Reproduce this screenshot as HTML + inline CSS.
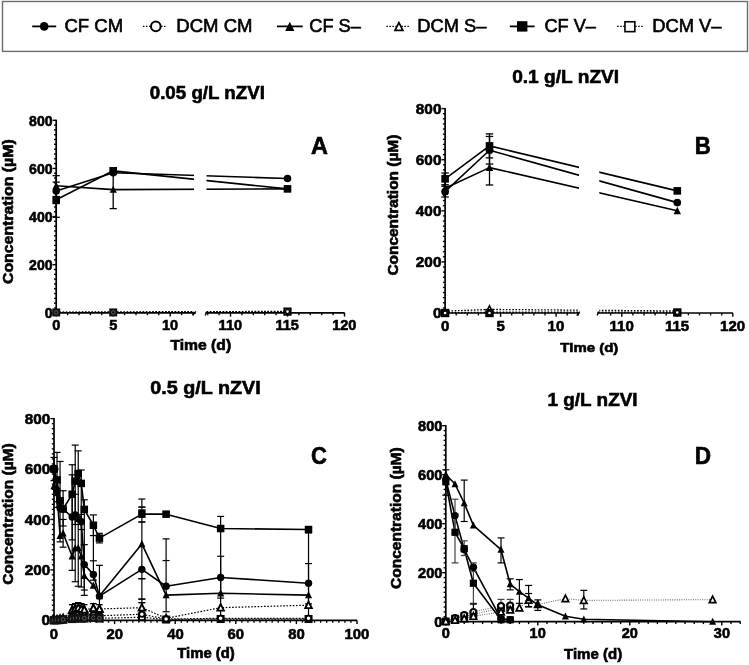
<!DOCTYPE html>
<html><head><meta charset="utf-8"><style>
html,body{margin:0;padding:0;background:#fff;}
svg{display:block;filter:blur(0.35px);}
text{font-family:"Liberation Sans",sans-serif;fill:#000;}
</style></head><body>
<svg width="749" height="665" viewBox="0 0 749 665" font-family="Liberation Sans, sans-serif">
<rect width="749" height="665" fill="#fff"/>
<rect x="2.5" y="1.5" width="745" height="49.9" fill="none" stroke="#6b6b6b" stroke-width="1.4"/>
<line x1="32.2" y1="26.4" x2="56.2" y2="26.4" stroke="#000" stroke-width="1.8" stroke-linecap="butt"/>
<circle cx="44.2" cy="26.4" r="4.3" fill="#000" stroke="#000" stroke-width="0"/>
<line x1="143" y1="26.4" x2="167" y2="26.4" stroke="#000" stroke-width="1.4" stroke-linecap="butt" stroke-dasharray="1.5,1.5"/>
<circle cx="155.8" cy="26.4" r="4.8" fill="#fff" stroke="#000" stroke-width="2.0"/>
<line x1="277" y1="26.4" x2="302.7" y2="26.4" stroke="#000" stroke-width="1.8" stroke-linecap="butt"/>
<polygon points="289.8,21.84 294.4,31.04 285.2,31.04" fill="#000" stroke="#000" stroke-width="0" stroke-linejoin="miter"/>
<line x1="386.4" y1="26.4" x2="408.8" y2="26.4" stroke="#000" stroke-width="1.4" stroke-linecap="butt" stroke-dasharray="1.5,1.5"/>
<polygon points="398.9,22.55 402.85,30.45 394.95,30.45" fill="#fff" stroke="#000" stroke-width="1.7" stroke-linejoin="miter"/>
<line x1="509.8" y1="26.4" x2="534.6" y2="26.4" stroke="#000" stroke-width="1.8" stroke-linecap="butt"/>
<rect x="517" y="21.2" width="10.4" height="10.4" fill="#000" stroke="#000" stroke-width="0"/>
<line x1="617.2" y1="26.4" x2="642.9" y2="26.4" stroke="#000" stroke-width="1.4" stroke-linecap="butt" stroke-dasharray="1.5,1.5"/>
<rect x="624.95" y="21.75" width="9.9" height="9.9" fill="#fff" stroke="#000" stroke-width="1.6"/>
<text transform="translate(64.47,32.3) scale(1.0225,1)" font-size="18.14" font-weight="normal" stroke="#000" stroke-width="0.6">CF CM</text>
<text transform="translate(176.32,32.3) scale(1.0213,1)" font-size="18.14" font-weight="normal" stroke="#000" stroke-width="0.6">DCM CM</text>
<text transform="translate(309.29,32.3) scale(1.0034,1)" font-size="18.14" font-weight="normal" stroke="#000" stroke-width="0.6">CF S–</text>
<text transform="translate(417.34,32.3) scale(1.0069,1)" font-size="18.14" font-weight="normal" stroke="#000" stroke-width="0.6">DCM S–</text>
<text transform="translate(544.39,32.3) scale(1.0034,1)" font-size="18.14" font-weight="normal" stroke="#000" stroke-width="0.6">CF V–</text>
<text transform="translate(652.13,32.3) scale(1.0129,1)" font-size="18.14" font-weight="normal" stroke="#000" stroke-width="0.6">DCM V–</text>
<text transform="translate(149.75,98.6) scale(1.0443,1)" font-size="17.93" font-weight="bold" stroke="#000" stroke-width="0.6">0.05 g/L nZVI</text>
<text transform="translate(512.13,83) scale(1.0057,1)" font-size="19.03" font-weight="bold" stroke="#000" stroke-width="0.6">0.1 g/L nZVI</text>
<text transform="translate(150.31,394.4) scale(1.0683,1)" font-size="18.48" font-weight="bold" stroke="#000" stroke-width="0.6">0.5 g/L nZVI</text>
<text transform="translate(547.47,405.6) scale(1.0248,1)" font-size="18.48" font-weight="bold" stroke="#000" stroke-width="0.6">1 g/L nZVI</text>
<text transform="translate(310.91,154.4) scale(0.9859,1)" font-size="23.77" font-weight="bold" stroke="#000" stroke-width="0.6">A</text>
<text transform="translate(694.85,154.4) scale(0.9380,1)" font-size="23.77" font-weight="bold" stroke="#000" stroke-width="0.6">B</text>
<text transform="translate(310.92,463.9) scale(0.9160,1)" font-size="24.00" font-weight="bold" stroke="#000" stroke-width="0.6">C</text>
<text transform="translate(694.83,463.6) scale(0.9568,1)" font-size="23.62" font-weight="bold" stroke="#000" stroke-width="0.6">D</text>
<text transform="translate(170.44,349.7) scale(1.1160,1)" font-size="14.07" font-weight="bold" stroke="#000" stroke-width="0.6">Time (d)</text>
<text transform="translate(560.35,352.4) scale(1.0961,1)" font-size="13.66" font-weight="bold" stroke="#000" stroke-width="0.6">Time (d)</text>
<text transform="translate(177.25,658.3) scale(1.0775,1)" font-size="13.79" font-weight="bold" stroke="#000" stroke-width="0.6">Time (d)</text>
<text transform="translate(564.05,659.2) scale(1.0572,1)" font-size="14.21" font-weight="bold" stroke="#000" stroke-width="0.6">Time (d)</text>
<text transform="translate(13.4,284.03) rotate(-90) scale(1.1167,1)" font-size="14.21" font-weight="bold" stroke="#000" stroke-width="0.6">Concentration (µM)</text>
<text transform="translate(397.5,275.62) rotate(-90) scale(1.0978,1)" font-size="14.07" font-weight="bold" stroke="#000" stroke-width="0.6">Concentration (µM)</text>
<text transform="translate(12.7,584.82) rotate(-90) scale(1.0910,1)" font-size="14.21" font-weight="bold" stroke="#000" stroke-width="0.6">Concentration (µM)</text>
<text transform="translate(400.7,589.02) rotate(-90) scale(1.0934,1)" font-size="14.21" font-weight="bold" stroke="#000" stroke-width="0.6">Concentration (µM)</text>
<polyline points="56.2,312.32 113.2,312.32 287.5,311.6" fill="none" stroke="#000" stroke-width="1.2" stroke-linejoin="round" stroke-dasharray="1.6,1.6"/>
<polyline points="56.2,312.08 113.2,311.84 287.5,311.36" fill="none" stroke="#000" stroke-width="1.2" stroke-linejoin="round" stroke-dasharray="1.6,1.6"/>
<polyline points="56.2,191.04 113.2,172.76 287.5,178.53" fill="none" stroke="#000" stroke-width="1.6" stroke-linejoin="round"/>
<polyline points="56.2,185.75 113.2,189.6 287.5,188.88" fill="none" stroke="#000" stroke-width="1.6" stroke-linejoin="round"/>
<polyline points="56.2,199.71 113.2,170.83 287.5,188.88" fill="none" stroke="#000" stroke-width="1.6" stroke-linejoin="round"/>
<rect x="194" y="110" width="12.5" height="206" fill="#fff"/>
<line x1="56.2" y1="119.7" x2="56.2" y2="313.6" stroke="#000" stroke-width="1.7" stroke-linecap="butt"/>
<line x1="52.6" y1="312.8" x2="56.2" y2="312.8" stroke="#000" stroke-width="1.4" stroke-linecap="butt"/>
<line x1="54" y1="307.99" x2="56.2" y2="307.99" stroke="#000" stroke-width="1.35" stroke-linecap="butt"/>
<line x1="54" y1="303.18" x2="56.2" y2="303.18" stroke="#000" stroke-width="1.35" stroke-linecap="butt"/>
<line x1="54" y1="298.36" x2="56.2" y2="298.36" stroke="#000" stroke-width="1.35" stroke-linecap="butt"/>
<line x1="54" y1="293.55" x2="56.2" y2="293.55" stroke="#000" stroke-width="1.35" stroke-linecap="butt"/>
<line x1="54" y1="288.74" x2="56.2" y2="288.74" stroke="#000" stroke-width="1.35" stroke-linecap="butt"/>
<line x1="54" y1="283.93" x2="56.2" y2="283.93" stroke="#000" stroke-width="1.35" stroke-linecap="butt"/>
<line x1="54" y1="279.11" x2="56.2" y2="279.11" stroke="#000" stroke-width="1.35" stroke-linecap="butt"/>
<line x1="54" y1="274.3" x2="56.2" y2="274.3" stroke="#000" stroke-width="1.35" stroke-linecap="butt"/>
<line x1="54" y1="269.49" x2="56.2" y2="269.49" stroke="#000" stroke-width="1.35" stroke-linecap="butt"/>
<line x1="52.6" y1="264.68" x2="56.2" y2="264.68" stroke="#000" stroke-width="1.4" stroke-linecap="butt"/>
<line x1="54" y1="259.86" x2="56.2" y2="259.86" stroke="#000" stroke-width="1.35" stroke-linecap="butt"/>
<line x1="54" y1="255.05" x2="56.2" y2="255.05" stroke="#000" stroke-width="1.35" stroke-linecap="butt"/>
<line x1="54" y1="250.24" x2="56.2" y2="250.24" stroke="#000" stroke-width="1.35" stroke-linecap="butt"/>
<line x1="54" y1="245.43" x2="56.2" y2="245.43" stroke="#000" stroke-width="1.35" stroke-linecap="butt"/>
<line x1="54" y1="240.61" x2="56.2" y2="240.61" stroke="#000" stroke-width="1.35" stroke-linecap="butt"/>
<line x1="54" y1="235.8" x2="56.2" y2="235.8" stroke="#000" stroke-width="1.35" stroke-linecap="butt"/>
<line x1="54" y1="230.99" x2="56.2" y2="230.99" stroke="#000" stroke-width="1.35" stroke-linecap="butt"/>
<line x1="54" y1="226.18" x2="56.2" y2="226.18" stroke="#000" stroke-width="1.35" stroke-linecap="butt"/>
<line x1="54" y1="221.36" x2="56.2" y2="221.36" stroke="#000" stroke-width="1.35" stroke-linecap="butt"/>
<line x1="52.6" y1="216.55" x2="56.2" y2="216.55" stroke="#000" stroke-width="1.4" stroke-linecap="butt"/>
<line x1="54" y1="211.74" x2="56.2" y2="211.74" stroke="#000" stroke-width="1.35" stroke-linecap="butt"/>
<line x1="54" y1="206.93" x2="56.2" y2="206.93" stroke="#000" stroke-width="1.35" stroke-linecap="butt"/>
<line x1="54" y1="202.11" x2="56.2" y2="202.11" stroke="#000" stroke-width="1.35" stroke-linecap="butt"/>
<line x1="54" y1="197.3" x2="56.2" y2="197.3" stroke="#000" stroke-width="1.35" stroke-linecap="butt"/>
<line x1="54" y1="192.49" x2="56.2" y2="192.49" stroke="#000" stroke-width="1.35" stroke-linecap="butt"/>
<line x1="54" y1="187.68" x2="56.2" y2="187.68" stroke="#000" stroke-width="1.35" stroke-linecap="butt"/>
<line x1="54" y1="182.86" x2="56.2" y2="182.86" stroke="#000" stroke-width="1.35" stroke-linecap="butt"/>
<line x1="54" y1="178.05" x2="56.2" y2="178.05" stroke="#000" stroke-width="1.35" stroke-linecap="butt"/>
<line x1="54" y1="173.24" x2="56.2" y2="173.24" stroke="#000" stroke-width="1.35" stroke-linecap="butt"/>
<line x1="52.6" y1="168.43" x2="56.2" y2="168.43" stroke="#000" stroke-width="1.4" stroke-linecap="butt"/>
<line x1="54" y1="163.61" x2="56.2" y2="163.61" stroke="#000" stroke-width="1.35" stroke-linecap="butt"/>
<line x1="54" y1="158.8" x2="56.2" y2="158.8" stroke="#000" stroke-width="1.35" stroke-linecap="butt"/>
<line x1="54" y1="153.99" x2="56.2" y2="153.99" stroke="#000" stroke-width="1.35" stroke-linecap="butt"/>
<line x1="54" y1="149.18" x2="56.2" y2="149.18" stroke="#000" stroke-width="1.35" stroke-linecap="butt"/>
<line x1="54" y1="144.36" x2="56.2" y2="144.36" stroke="#000" stroke-width="1.35" stroke-linecap="butt"/>
<line x1="54" y1="139.55" x2="56.2" y2="139.55" stroke="#000" stroke-width="1.35" stroke-linecap="butt"/>
<line x1="54" y1="134.74" x2="56.2" y2="134.74" stroke="#000" stroke-width="1.35" stroke-linecap="butt"/>
<line x1="54" y1="129.93" x2="56.2" y2="129.93" stroke="#000" stroke-width="1.35" stroke-linecap="butt"/>
<line x1="54" y1="125.11" x2="56.2" y2="125.11" stroke="#000" stroke-width="1.35" stroke-linecap="butt"/>
<line x1="52.6" y1="120.3" x2="56.2" y2="120.3" stroke="#000" stroke-width="1.4" stroke-linecap="butt"/>
<text transform="translate(44.67,318.16) scale(0.9971,1)" font-size="14.08" font-weight="bold" stroke="#000" stroke-width="0.6">0</text>
<text transform="translate(29.08,270.03) scale(0.9971,1)" font-size="14.08" font-weight="bold" stroke="#000" stroke-width="0.6">200</text>
<text transform="translate(29.08,221.91) scale(0.9971,1)" font-size="14.08" font-weight="bold" stroke="#000" stroke-width="0.6">400</text>
<text transform="translate(29.08,173.78) scale(0.9971,1)" font-size="14.08" font-weight="bold" stroke="#000" stroke-width="0.6">600</text>
<text transform="translate(29.08,125.66) scale(0.9971,1)" font-size="14.08" font-weight="bold" stroke="#000" stroke-width="0.6">800</text>
<line x1="56.2" y1="312.8" x2="195.8" y2="312.8" stroke="#000" stroke-width="1.7" stroke-linecap="butt"/>
<line x1="56.2" y1="312.8" x2="56.2" y2="316.6" stroke="#000" stroke-width="1.4" stroke-linecap="butt"/>
<line x1="67.6" y1="312.8" x2="67.6" y2="315.2" stroke="#000" stroke-width="1.35" stroke-linecap="butt"/>
<line x1="79" y1="312.8" x2="79" y2="315.2" stroke="#000" stroke-width="1.35" stroke-linecap="butt"/>
<line x1="90.4" y1="312.8" x2="90.4" y2="315.2" stroke="#000" stroke-width="1.35" stroke-linecap="butt"/>
<line x1="101.8" y1="312.8" x2="101.8" y2="315.2" stroke="#000" stroke-width="1.35" stroke-linecap="butt"/>
<line x1="113.2" y1="312.8" x2="113.2" y2="316.6" stroke="#000" stroke-width="1.4" stroke-linecap="butt"/>
<line x1="124.6" y1="312.8" x2="124.6" y2="315.2" stroke="#000" stroke-width="1.35" stroke-linecap="butt"/>
<line x1="136" y1="312.8" x2="136" y2="315.2" stroke="#000" stroke-width="1.35" stroke-linecap="butt"/>
<line x1="147.4" y1="312.8" x2="147.4" y2="315.2" stroke="#000" stroke-width="1.35" stroke-linecap="butt"/>
<line x1="158.8" y1="312.8" x2="158.8" y2="315.2" stroke="#000" stroke-width="1.35" stroke-linecap="butt"/>
<line x1="170.2" y1="312.8" x2="170.2" y2="316.6" stroke="#000" stroke-width="1.4" stroke-linecap="butt"/>
<line x1="181.6" y1="312.8" x2="181.6" y2="315.2" stroke="#000" stroke-width="1.35" stroke-linecap="butt"/>
<line x1="193" y1="312.8" x2="193" y2="315.2" stroke="#000" stroke-width="1.35" stroke-linecap="butt"/>
<text transform="translate(52.17,329.66) scale(1.0112,1)" font-size="14.37" font-weight="bold" stroke="#000" stroke-width="0.6">0</text>
<text transform="translate(109.13,329.58) scale(1.0112,1)" font-size="14.37" font-weight="bold" stroke="#000" stroke-width="0.6">5</text>
<text transform="translate(161.96,329.66) scale(1.0112,1)" font-size="14.37" font-weight="bold" stroke="#000" stroke-width="0.6">10</text>
<line x1="205.4" y1="312.8" x2="344.6" y2="312.8" stroke="#000" stroke-width="1.7" stroke-linecap="butt"/>
<line x1="207.7" y1="312.8" x2="207.7" y2="315.2" stroke="#000" stroke-width="1.35" stroke-linecap="butt"/>
<line x1="219.1" y1="312.8" x2="219.1" y2="315.2" stroke="#000" stroke-width="1.35" stroke-linecap="butt"/>
<line x1="230.5" y1="312.8" x2="230.5" y2="316.6" stroke="#000" stroke-width="1.4" stroke-linecap="butt"/>
<line x1="241.9" y1="312.8" x2="241.9" y2="315.2" stroke="#000" stroke-width="1.35" stroke-linecap="butt"/>
<line x1="253.3" y1="312.8" x2="253.3" y2="315.2" stroke="#000" stroke-width="1.35" stroke-linecap="butt"/>
<line x1="264.7" y1="312.8" x2="264.7" y2="315.2" stroke="#000" stroke-width="1.35" stroke-linecap="butt"/>
<line x1="276.1" y1="312.8" x2="276.1" y2="315.2" stroke="#000" stroke-width="1.35" stroke-linecap="butt"/>
<line x1="287.5" y1="312.8" x2="287.5" y2="316.6" stroke="#000" stroke-width="1.4" stroke-linecap="butt"/>
<line x1="298.9" y1="312.8" x2="298.9" y2="315.2" stroke="#000" stroke-width="1.35" stroke-linecap="butt"/>
<line x1="310.3" y1="312.8" x2="310.3" y2="315.2" stroke="#000" stroke-width="1.35" stroke-linecap="butt"/>
<line x1="321.7" y1="312.8" x2="321.7" y2="315.2" stroke="#000" stroke-width="1.35" stroke-linecap="butt"/>
<line x1="333.1" y1="312.8" x2="333.1" y2="315.2" stroke="#000" stroke-width="1.35" stroke-linecap="butt"/>
<line x1="344.5" y1="312.8" x2="344.5" y2="316.6" stroke="#000" stroke-width="1.4" stroke-linecap="butt"/>
<text transform="translate(218.62,329.66) scale(1.0112,1)" font-size="14.37" font-weight="bold" stroke="#000" stroke-width="0.6">110</text>
<text transform="translate(275.51,329.58) scale(1.0112,1)" font-size="14.37" font-weight="bold" stroke="#000" stroke-width="0.6">115</text>
<text transform="translate(332.22,329.66) scale(1.0112,1)" font-size="14.37" font-weight="bold" stroke="#000" stroke-width="0.6">120</text>
<line x1="195.8" y1="311.4" x2="192.8" y2="315.4" stroke="#000" stroke-width="1.3" stroke-linecap="butt"/>
<line x1="207" y1="311.4" x2="205.2" y2="315.4" stroke="#000" stroke-width="1.3" stroke-linecap="butt"/>
<line x1="56.2" y1="175.64" x2="56.2" y2="203.56" stroke="#000" stroke-width="1.3" stroke-linecap="butt"/>
<line x1="52.6" y1="175.64" x2="59.8" y2="175.64" stroke="#000" stroke-width="1.3" stroke-linecap="butt"/>
<line x1="52.6" y1="203.56" x2="59.8" y2="203.56" stroke="#000" stroke-width="1.3" stroke-linecap="butt"/>
<line x1="56.2" y1="182.14" x2="56.2" y2="217.27" stroke="#000" stroke-width="1.3" stroke-linecap="butt"/>
<line x1="52.6" y1="182.14" x2="59.8" y2="182.14" stroke="#000" stroke-width="1.3" stroke-linecap="butt"/>
<line x1="52.6" y1="217.27" x2="59.8" y2="217.27" stroke="#000" stroke-width="1.3" stroke-linecap="butt"/>
<line x1="113.2" y1="173.48" x2="113.2" y2="208.61" stroke="#000" stroke-width="1.3" stroke-linecap="butt"/>
<line x1="109.6" y1="173.48" x2="116.8" y2="173.48" stroke="#000" stroke-width="1.3" stroke-linecap="butt"/>
<line x1="109.6" y1="208.61" x2="116.8" y2="208.61" stroke="#000" stroke-width="1.3" stroke-linecap="butt"/>
<rect x="52.2" y="308.44" width="8" height="8" fill="#111"/>
<circle cx="56.2" cy="312.44" r="1.76" fill="none" stroke="#777" stroke-width="0.7"/>
<rect x="109.2" y="308.44" width="8" height="8" fill="#111"/>
<circle cx="113.2" cy="312.44" r="1.76" fill="none" stroke="#777" stroke-width="0.7"/>
<rect x="284.4" y="308.5" width="6.2" height="6.2" fill="#fff" stroke="#000" stroke-width="2.0"/>
<circle cx="287.5" cy="311.6" r="2" fill="#fff" stroke="#000" stroke-width="1.4"/>
<polygon points="56.2,181.79 59.8,188.99 52.6,188.99" fill="#000" stroke="#000" stroke-width="0" stroke-linejoin="miter"/>
<polygon points="113.2,185.64 116.8,192.84 109.6,192.84" fill="#000" stroke="#000" stroke-width="0" stroke-linejoin="miter"/>
<polygon points="287.5,184.92 291.1,192.12 283.9,192.12" fill="#000" stroke="#000" stroke-width="0" stroke-linejoin="miter"/>
<circle cx="56.2" cy="191.04" r="3.75" fill="#000" stroke="#000" stroke-width="0"/>
<circle cx="113.2" cy="172.76" r="3.75" fill="#000" stroke="#000" stroke-width="0"/>
<circle cx="287.5" cy="178.53" r="3.75" fill="#000" stroke="#000" stroke-width="0"/>
<rect x="52.4" y="195.91" width="7.6" height="7.6" fill="#000" stroke="#000" stroke-width="0"/>
<rect x="109.4" y="167.03" width="7.6" height="7.6" fill="#000" stroke="#000" stroke-width="0"/>
<rect x="283.7" y="185.08" width="7.6" height="7.6" fill="#000" stroke="#000" stroke-width="0"/>
<polyline points="445.1,311.21 489.5,309.42 677.3,310.96" fill="none" stroke="#000" stroke-width="1.3" stroke-linejoin="round" stroke-dasharray="1.6,1.6"/>
<polyline points="445.1,312.74 489.5,312.23 677.3,312.23" fill="none" stroke="#000" stroke-width="1.3" stroke-linejoin="round" stroke-dasharray="1.6,1.6"/>
<polyline points="445.1,191.64 489.5,150.25 677.3,202.62" fill="none" stroke="#000" stroke-width="1.6" stroke-linejoin="round"/>
<polyline points="445.1,188.32 489.5,167.62 677.3,210.8" fill="none" stroke="#000" stroke-width="1.6" stroke-linejoin="round"/>
<polyline points="445.1,178.86 489.5,145.9 677.3,190.87" fill="none" stroke="#000" stroke-width="1.6" stroke-linejoin="round"/>
<rect x="579" y="100" width="20.3" height="216" fill="#fff"/>
<line x1="445.1" y1="108" x2="445.1" y2="313.8" stroke="#000" stroke-width="1.7" stroke-linecap="butt"/>
<line x1="441.5" y1="313" x2="445.1" y2="313" stroke="#000" stroke-width="1.4" stroke-linecap="butt"/>
<line x1="442.9" y1="307.89" x2="445.1" y2="307.89" stroke="#000" stroke-width="1.35" stroke-linecap="butt"/>
<line x1="442.9" y1="302.78" x2="445.1" y2="302.78" stroke="#000" stroke-width="1.35" stroke-linecap="butt"/>
<line x1="442.9" y1="297.67" x2="445.1" y2="297.67" stroke="#000" stroke-width="1.35" stroke-linecap="butt"/>
<line x1="442.9" y1="292.56" x2="445.1" y2="292.56" stroke="#000" stroke-width="1.35" stroke-linecap="butt"/>
<line x1="442.9" y1="287.45" x2="445.1" y2="287.45" stroke="#000" stroke-width="1.35" stroke-linecap="butt"/>
<line x1="442.9" y1="282.34" x2="445.1" y2="282.34" stroke="#000" stroke-width="1.35" stroke-linecap="butt"/>
<line x1="442.9" y1="277.23" x2="445.1" y2="277.23" stroke="#000" stroke-width="1.35" stroke-linecap="butt"/>
<line x1="442.9" y1="272.12" x2="445.1" y2="272.12" stroke="#000" stroke-width="1.35" stroke-linecap="butt"/>
<line x1="442.9" y1="267.01" x2="445.1" y2="267.01" stroke="#000" stroke-width="1.35" stroke-linecap="butt"/>
<line x1="441.5" y1="261.9" x2="445.1" y2="261.9" stroke="#000" stroke-width="1.4" stroke-linecap="butt"/>
<line x1="442.9" y1="256.79" x2="445.1" y2="256.79" stroke="#000" stroke-width="1.35" stroke-linecap="butt"/>
<line x1="442.9" y1="251.68" x2="445.1" y2="251.68" stroke="#000" stroke-width="1.35" stroke-linecap="butt"/>
<line x1="442.9" y1="246.57" x2="445.1" y2="246.57" stroke="#000" stroke-width="1.35" stroke-linecap="butt"/>
<line x1="442.9" y1="241.46" x2="445.1" y2="241.46" stroke="#000" stroke-width="1.35" stroke-linecap="butt"/>
<line x1="442.9" y1="236.35" x2="445.1" y2="236.35" stroke="#000" stroke-width="1.35" stroke-linecap="butt"/>
<line x1="442.9" y1="231.24" x2="445.1" y2="231.24" stroke="#000" stroke-width="1.35" stroke-linecap="butt"/>
<line x1="442.9" y1="226.13" x2="445.1" y2="226.13" stroke="#000" stroke-width="1.35" stroke-linecap="butt"/>
<line x1="442.9" y1="221.02" x2="445.1" y2="221.02" stroke="#000" stroke-width="1.35" stroke-linecap="butt"/>
<line x1="442.9" y1="215.91" x2="445.1" y2="215.91" stroke="#000" stroke-width="1.35" stroke-linecap="butt"/>
<line x1="441.5" y1="210.8" x2="445.1" y2="210.8" stroke="#000" stroke-width="1.4" stroke-linecap="butt"/>
<line x1="442.9" y1="205.69" x2="445.1" y2="205.69" stroke="#000" stroke-width="1.35" stroke-linecap="butt"/>
<line x1="442.9" y1="200.58" x2="445.1" y2="200.58" stroke="#000" stroke-width="1.35" stroke-linecap="butt"/>
<line x1="442.9" y1="195.47" x2="445.1" y2="195.47" stroke="#000" stroke-width="1.35" stroke-linecap="butt"/>
<line x1="442.9" y1="190.36" x2="445.1" y2="190.36" stroke="#000" stroke-width="1.35" stroke-linecap="butt"/>
<line x1="442.9" y1="185.25" x2="445.1" y2="185.25" stroke="#000" stroke-width="1.35" stroke-linecap="butt"/>
<line x1="442.9" y1="180.14" x2="445.1" y2="180.14" stroke="#000" stroke-width="1.35" stroke-linecap="butt"/>
<line x1="442.9" y1="175.03" x2="445.1" y2="175.03" stroke="#000" stroke-width="1.35" stroke-linecap="butt"/>
<line x1="442.9" y1="169.92" x2="445.1" y2="169.92" stroke="#000" stroke-width="1.35" stroke-linecap="butt"/>
<line x1="442.9" y1="164.81" x2="445.1" y2="164.81" stroke="#000" stroke-width="1.35" stroke-linecap="butt"/>
<line x1="441.5" y1="159.7" x2="445.1" y2="159.7" stroke="#000" stroke-width="1.4" stroke-linecap="butt"/>
<line x1="442.9" y1="154.59" x2="445.1" y2="154.59" stroke="#000" stroke-width="1.35" stroke-linecap="butt"/>
<line x1="442.9" y1="149.48" x2="445.1" y2="149.48" stroke="#000" stroke-width="1.35" stroke-linecap="butt"/>
<line x1="442.9" y1="144.37" x2="445.1" y2="144.37" stroke="#000" stroke-width="1.35" stroke-linecap="butt"/>
<line x1="442.9" y1="139.26" x2="445.1" y2="139.26" stroke="#000" stroke-width="1.35" stroke-linecap="butt"/>
<line x1="442.9" y1="134.15" x2="445.1" y2="134.15" stroke="#000" stroke-width="1.35" stroke-linecap="butt"/>
<line x1="442.9" y1="129.04" x2="445.1" y2="129.04" stroke="#000" stroke-width="1.35" stroke-linecap="butt"/>
<line x1="442.9" y1="123.93" x2="445.1" y2="123.93" stroke="#000" stroke-width="1.35" stroke-linecap="butt"/>
<line x1="442.9" y1="118.82" x2="445.1" y2="118.82" stroke="#000" stroke-width="1.35" stroke-linecap="butt"/>
<line x1="442.9" y1="113.71" x2="445.1" y2="113.71" stroke="#000" stroke-width="1.35" stroke-linecap="butt"/>
<line x1="441.5" y1="108.6" x2="445.1" y2="108.6" stroke="#000" stroke-width="1.4" stroke-linecap="butt"/>
<text transform="translate(432.89,318.1) scale(1.0387,1)" font-size="14.79" font-weight="bold" stroke="#000" stroke-width="0.6">0</text>
<text transform="translate(415.84,267) scale(1.0387,1)" font-size="14.79" font-weight="bold" stroke="#000" stroke-width="0.6">200</text>
<text transform="translate(415.84,215.9) scale(1.0387,1)" font-size="14.79" font-weight="bold" stroke="#000" stroke-width="0.6">400</text>
<text transform="translate(415.84,164.8) scale(1.0387,1)" font-size="14.79" font-weight="bold" stroke="#000" stroke-width="0.6">600</text>
<text transform="translate(415.84,113.7) scale(1.0387,1)" font-size="14.79" font-weight="bold" stroke="#000" stroke-width="0.6">800</text>
<line x1="445.1" y1="313" x2="579.7" y2="313" stroke="#000" stroke-width="1.7" stroke-linecap="butt"/>
<line x1="445.1" y1="313" x2="445.1" y2="316.8" stroke="#000" stroke-width="1.4" stroke-linecap="butt"/>
<line x1="456.2" y1="313" x2="456.2" y2="315.4" stroke="#000" stroke-width="1.35" stroke-linecap="butt"/>
<line x1="467.3" y1="313" x2="467.3" y2="315.4" stroke="#000" stroke-width="1.35" stroke-linecap="butt"/>
<line x1="478.4" y1="313" x2="478.4" y2="315.4" stroke="#000" stroke-width="1.35" stroke-linecap="butt"/>
<line x1="489.5" y1="313" x2="489.5" y2="315.4" stroke="#000" stroke-width="1.35" stroke-linecap="butt"/>
<line x1="500.6" y1="313" x2="500.6" y2="316.8" stroke="#000" stroke-width="1.4" stroke-linecap="butt"/>
<line x1="511.7" y1="313" x2="511.7" y2="315.4" stroke="#000" stroke-width="1.35" stroke-linecap="butt"/>
<line x1="522.8" y1="313" x2="522.8" y2="315.4" stroke="#000" stroke-width="1.35" stroke-linecap="butt"/>
<line x1="533.9" y1="313" x2="533.9" y2="315.4" stroke="#000" stroke-width="1.35" stroke-linecap="butt"/>
<line x1="545" y1="313" x2="545" y2="315.4" stroke="#000" stroke-width="1.35" stroke-linecap="butt"/>
<line x1="556.1" y1="313" x2="556.1" y2="316.8" stroke="#000" stroke-width="1.4" stroke-linecap="butt"/>
<line x1="567.2" y1="313" x2="567.2" y2="315.4" stroke="#000" stroke-width="1.35" stroke-linecap="butt"/>
<line x1="578.3" y1="313" x2="578.3" y2="315.4" stroke="#000" stroke-width="1.35" stroke-linecap="butt"/>
<text transform="translate(440.93,331.3) scale(0.9970,1)" font-size="15.07" font-weight="bold" stroke="#000" stroke-width="0.6">0</text>
<text transform="translate(496.39,331.22) scale(0.9970,1)" font-size="15.07" font-weight="bold" stroke="#000" stroke-width="0.6">5</text>
<text transform="translate(547.57,331.3) scale(0.9970,1)" font-size="15.07" font-weight="bold" stroke="#000" stroke-width="0.6">10</text>
<line x1="597.3" y1="313" x2="733" y2="313" stroke="#000" stroke-width="1.7" stroke-linecap="butt"/>
<line x1="610.7" y1="313" x2="610.7" y2="315.4" stroke="#000" stroke-width="1.35" stroke-linecap="butt"/>
<line x1="621.8" y1="313" x2="621.8" y2="316.8" stroke="#000" stroke-width="1.4" stroke-linecap="butt"/>
<line x1="632.9" y1="313" x2="632.9" y2="315.4" stroke="#000" stroke-width="1.35" stroke-linecap="butt"/>
<line x1="644" y1="313" x2="644" y2="315.4" stroke="#000" stroke-width="1.35" stroke-linecap="butt"/>
<line x1="655.1" y1="313" x2="655.1" y2="315.4" stroke="#000" stroke-width="1.35" stroke-linecap="butt"/>
<line x1="666.2" y1="313" x2="666.2" y2="315.4" stroke="#000" stroke-width="1.35" stroke-linecap="butt"/>
<line x1="677.3" y1="313" x2="677.3" y2="316.8" stroke="#000" stroke-width="1.4" stroke-linecap="butt"/>
<line x1="688.4" y1="313" x2="688.4" y2="315.4" stroke="#000" stroke-width="1.35" stroke-linecap="butt"/>
<line x1="699.5" y1="313" x2="699.5" y2="315.4" stroke="#000" stroke-width="1.35" stroke-linecap="butt"/>
<line x1="710.6" y1="313" x2="710.6" y2="315.4" stroke="#000" stroke-width="1.35" stroke-linecap="butt"/>
<line x1="721.7" y1="313" x2="721.7" y2="315.4" stroke="#000" stroke-width="1.35" stroke-linecap="butt"/>
<line x1="732.8" y1="313" x2="732.8" y2="316.8" stroke="#000" stroke-width="1.4" stroke-linecap="butt"/>
<text transform="translate(609.52,331.3) scale(0.9970,1)" font-size="15.07" font-weight="bold" stroke="#000" stroke-width="0.6">110</text>
<text transform="translate(664.9,331.22) scale(0.9970,1)" font-size="15.07" font-weight="bold" stroke="#000" stroke-width="0.6">115</text>
<text transform="translate(720.1,331.3) scale(0.9970,1)" font-size="15.07" font-weight="bold" stroke="#000" stroke-width="0.6">120</text>
<line x1="579.7" y1="311.6" x2="576.7" y2="315.6" stroke="#000" stroke-width="1.3" stroke-linecap="butt"/>
<line x1="598.9" y1="311.6" x2="597.1" y2="315.6" stroke="#000" stroke-width="1.3" stroke-linecap="butt"/>
<line x1="445.1" y1="172.99" x2="445.1" y2="184.74" stroke="#000" stroke-width="1.3" stroke-linecap="butt"/>
<line x1="441.35" y1="172.99" x2="448.85" y2="172.99" stroke="#000" stroke-width="1.3" stroke-linecap="butt"/>
<line x1="441.35" y1="184.74" x2="448.85" y2="184.74" stroke="#000" stroke-width="1.3" stroke-linecap="butt"/>
<line x1="445.1" y1="186.27" x2="445.1" y2="197" stroke="#000" stroke-width="1.3" stroke-linecap="butt"/>
<line x1="441.35" y1="186.27" x2="448.85" y2="186.27" stroke="#000" stroke-width="1.3" stroke-linecap="butt"/>
<line x1="441.35" y1="197" x2="448.85" y2="197" stroke="#000" stroke-width="1.3" stroke-linecap="butt"/>
<line x1="489.5" y1="133.89" x2="489.5" y2="157.91" stroke="#000" stroke-width="1.3" stroke-linecap="butt"/>
<line x1="485.75" y1="133.89" x2="493.25" y2="133.89" stroke="#000" stroke-width="1.3" stroke-linecap="butt"/>
<line x1="485.75" y1="157.91" x2="493.25" y2="157.91" stroke="#000" stroke-width="1.3" stroke-linecap="butt"/>
<line x1="489.5" y1="136.45" x2="489.5" y2="164.04" stroke="#000" stroke-width="1.3" stroke-linecap="butt"/>
<line x1="485.75" y1="136.45" x2="493.25" y2="136.45" stroke="#000" stroke-width="1.3" stroke-linecap="butt"/>
<line x1="485.75" y1="164.04" x2="493.25" y2="164.04" stroke="#000" stroke-width="1.3" stroke-linecap="butt"/>
<line x1="489.5" y1="150.25" x2="489.5" y2="184.99" stroke="#000" stroke-width="1.3" stroke-linecap="butt"/>
<line x1="485.75" y1="150.25" x2="493.25" y2="150.25" stroke="#000" stroke-width="1.3" stroke-linecap="butt"/>
<line x1="485.75" y1="184.99" x2="493.25" y2="184.99" stroke="#000" stroke-width="1.3" stroke-linecap="butt"/>
<polygon points="489.5,305.74 492.85,312.44 486.15,312.44" fill="#fff" stroke="#000" stroke-width="1.5" stroke-linejoin="miter"/>
<rect x="442" y="309.9" width="6.2" height="6.2" fill="#fff" stroke="#000" stroke-width="2.2"/>
<rect x="486.4" y="309.9" width="6.2" height="6.2" fill="#fff" stroke="#000" stroke-width="2.2"/>
<rect x="674.2" y="309.39" width="6.2" height="6.2" fill="#fff" stroke="#000" stroke-width="2.2"/>
<circle cx="445.1" cy="313" r="2.05" fill="#fff" stroke="#000" stroke-width="1.5"/>
<circle cx="489.5" cy="313" r="2.05" fill="#fff" stroke="#000" stroke-width="1.5"/>
<circle cx="677.3" cy="312.49" r="2.05" fill="#fff" stroke="#000" stroke-width="1.5"/>
<polygon points="445.1,184.25 448.8,191.65 441.4,191.65" fill="#000" stroke="#000" stroke-width="0" stroke-linejoin="miter"/>
<polygon points="489.5,163.55 493.2,170.95 485.8,170.95" fill="#000" stroke="#000" stroke-width="0" stroke-linejoin="miter"/>
<polygon points="677.3,206.73 681,214.13 673.6,214.13" fill="#000" stroke="#000" stroke-width="0" stroke-linejoin="miter"/>
<circle cx="445.1" cy="191.64" r="3.85" fill="#000" stroke="#000" stroke-width="0"/>
<circle cx="489.5" cy="150.25" r="3.85" fill="#000" stroke="#000" stroke-width="0"/>
<circle cx="677.3" cy="202.62" r="3.85" fill="#000" stroke="#000" stroke-width="0"/>
<rect x="441.3" y="175.06" width="7.6" height="7.6" fill="#000" stroke="#000" stroke-width="0"/>
<rect x="485.7" y="142.1" width="7.6" height="7.6" fill="#000" stroke="#000" stroke-width="0"/>
<rect x="673.5" y="187.07" width="7.6" height="7.6" fill="#000" stroke="#000" stroke-width="0"/>
<line x1="54" y1="418" x2="54" y2="621.1" stroke="#000" stroke-width="1.7" stroke-linecap="butt"/>
<line x1="50.4" y1="620.3" x2="54" y2="620.3" stroke="#000" stroke-width="1.4" stroke-linecap="butt"/>
<line x1="51.8" y1="615.26" x2="54" y2="615.26" stroke="#000" stroke-width="1.35" stroke-linecap="butt"/>
<line x1="51.8" y1="610.21" x2="54" y2="610.21" stroke="#000" stroke-width="1.35" stroke-linecap="butt"/>
<line x1="51.8" y1="605.17" x2="54" y2="605.17" stroke="#000" stroke-width="1.35" stroke-linecap="butt"/>
<line x1="51.8" y1="600.13" x2="54" y2="600.13" stroke="#000" stroke-width="1.35" stroke-linecap="butt"/>
<line x1="51.8" y1="595.09" x2="54" y2="595.09" stroke="#000" stroke-width="1.35" stroke-linecap="butt"/>
<line x1="51.8" y1="590.04" x2="54" y2="590.04" stroke="#000" stroke-width="1.35" stroke-linecap="butt"/>
<line x1="51.8" y1="585" x2="54" y2="585" stroke="#000" stroke-width="1.35" stroke-linecap="butt"/>
<line x1="51.8" y1="579.96" x2="54" y2="579.96" stroke="#000" stroke-width="1.35" stroke-linecap="butt"/>
<line x1="51.8" y1="574.92" x2="54" y2="574.92" stroke="#000" stroke-width="1.35" stroke-linecap="butt"/>
<line x1="50.4" y1="569.88" x2="54" y2="569.88" stroke="#000" stroke-width="1.4" stroke-linecap="butt"/>
<line x1="51.8" y1="564.83" x2="54" y2="564.83" stroke="#000" stroke-width="1.35" stroke-linecap="butt"/>
<line x1="51.8" y1="559.79" x2="54" y2="559.79" stroke="#000" stroke-width="1.35" stroke-linecap="butt"/>
<line x1="51.8" y1="554.75" x2="54" y2="554.75" stroke="#000" stroke-width="1.35" stroke-linecap="butt"/>
<line x1="51.8" y1="549.7" x2="54" y2="549.7" stroke="#000" stroke-width="1.35" stroke-linecap="butt"/>
<line x1="51.8" y1="544.66" x2="54" y2="544.66" stroke="#000" stroke-width="1.35" stroke-linecap="butt"/>
<line x1="51.8" y1="539.62" x2="54" y2="539.62" stroke="#000" stroke-width="1.35" stroke-linecap="butt"/>
<line x1="51.8" y1="534.58" x2="54" y2="534.58" stroke="#000" stroke-width="1.35" stroke-linecap="butt"/>
<line x1="51.8" y1="529.53" x2="54" y2="529.53" stroke="#000" stroke-width="1.35" stroke-linecap="butt"/>
<line x1="51.8" y1="524.49" x2="54" y2="524.49" stroke="#000" stroke-width="1.35" stroke-linecap="butt"/>
<line x1="50.4" y1="519.45" x2="54" y2="519.45" stroke="#000" stroke-width="1.4" stroke-linecap="butt"/>
<line x1="51.8" y1="514.41" x2="54" y2="514.41" stroke="#000" stroke-width="1.35" stroke-linecap="butt"/>
<line x1="51.8" y1="509.37" x2="54" y2="509.37" stroke="#000" stroke-width="1.35" stroke-linecap="butt"/>
<line x1="51.8" y1="504.32" x2="54" y2="504.32" stroke="#000" stroke-width="1.35" stroke-linecap="butt"/>
<line x1="51.8" y1="499.28" x2="54" y2="499.28" stroke="#000" stroke-width="1.35" stroke-linecap="butt"/>
<line x1="51.8" y1="494.24" x2="54" y2="494.24" stroke="#000" stroke-width="1.35" stroke-linecap="butt"/>
<line x1="51.8" y1="489.19" x2="54" y2="489.19" stroke="#000" stroke-width="1.35" stroke-linecap="butt"/>
<line x1="51.8" y1="484.15" x2="54" y2="484.15" stroke="#000" stroke-width="1.35" stroke-linecap="butt"/>
<line x1="51.8" y1="479.11" x2="54" y2="479.11" stroke="#000" stroke-width="1.35" stroke-linecap="butt"/>
<line x1="51.8" y1="474.07" x2="54" y2="474.07" stroke="#000" stroke-width="1.35" stroke-linecap="butt"/>
<line x1="50.4" y1="469.02" x2="54" y2="469.02" stroke="#000" stroke-width="1.4" stroke-linecap="butt"/>
<line x1="51.8" y1="463.98" x2="54" y2="463.98" stroke="#000" stroke-width="1.35" stroke-linecap="butt"/>
<line x1="51.8" y1="458.94" x2="54" y2="458.94" stroke="#000" stroke-width="1.35" stroke-linecap="butt"/>
<line x1="51.8" y1="453.9" x2="54" y2="453.9" stroke="#000" stroke-width="1.35" stroke-linecap="butt"/>
<line x1="51.8" y1="448.86" x2="54" y2="448.86" stroke="#000" stroke-width="1.35" stroke-linecap="butt"/>
<line x1="51.8" y1="443.81" x2="54" y2="443.81" stroke="#000" stroke-width="1.35" stroke-linecap="butt"/>
<line x1="51.8" y1="438.77" x2="54" y2="438.77" stroke="#000" stroke-width="1.35" stroke-linecap="butt"/>
<line x1="51.8" y1="433.73" x2="54" y2="433.73" stroke="#000" stroke-width="1.35" stroke-linecap="butt"/>
<line x1="51.8" y1="428.69" x2="54" y2="428.69" stroke="#000" stroke-width="1.35" stroke-linecap="butt"/>
<line x1="51.8" y1="423.64" x2="54" y2="423.64" stroke="#000" stroke-width="1.35" stroke-linecap="butt"/>
<line x1="50.4" y1="418.6" x2="54" y2="418.6" stroke="#000" stroke-width="1.4" stroke-linecap="butt"/>
<text transform="translate(41.62,625.35) scale(1.0444,1)" font-size="14.65" font-weight="bold" stroke="#000" stroke-width="0.6">0</text>
<text transform="translate(24.64,574.93) scale(1.0444,1)" font-size="14.65" font-weight="bold" stroke="#000" stroke-width="0.6">200</text>
<text transform="translate(24.64,524.5) scale(1.0444,1)" font-size="14.65" font-weight="bold" stroke="#000" stroke-width="0.6">400</text>
<text transform="translate(24.64,474.08) scale(1.0444,1)" font-size="14.65" font-weight="bold" stroke="#000" stroke-width="0.6">600</text>
<text transform="translate(24.64,423.65) scale(1.0444,1)" font-size="14.65" font-weight="bold" stroke="#000" stroke-width="0.6">800</text>
<line x1="54" y1="620.3" x2="357" y2="620.3" stroke="#000" stroke-width="1.7" stroke-linecap="butt"/>
<line x1="54" y1="620.3" x2="54" y2="624.1" stroke="#000" stroke-width="1.4" stroke-linecap="butt"/>
<line x1="60.06" y1="620.3" x2="60.06" y2="622.7" stroke="#000" stroke-width="1.35" stroke-linecap="butt"/>
<line x1="66.12" y1="620.3" x2="66.12" y2="622.7" stroke="#000" stroke-width="1.35" stroke-linecap="butt"/>
<line x1="72.18" y1="620.3" x2="72.18" y2="622.7" stroke="#000" stroke-width="1.35" stroke-linecap="butt"/>
<line x1="78.24" y1="620.3" x2="78.24" y2="622.7" stroke="#000" stroke-width="1.35" stroke-linecap="butt"/>
<line x1="84.3" y1="620.3" x2="84.3" y2="622.7" stroke="#000" stroke-width="1.35" stroke-linecap="butt"/>
<line x1="90.36" y1="620.3" x2="90.36" y2="622.7" stroke="#000" stroke-width="1.35" stroke-linecap="butt"/>
<line x1="96.42" y1="620.3" x2="96.42" y2="622.7" stroke="#000" stroke-width="1.35" stroke-linecap="butt"/>
<line x1="102.48" y1="620.3" x2="102.48" y2="622.7" stroke="#000" stroke-width="1.35" stroke-linecap="butt"/>
<line x1="108.54" y1="620.3" x2="108.54" y2="622.7" stroke="#000" stroke-width="1.35" stroke-linecap="butt"/>
<line x1="114.6" y1="620.3" x2="114.6" y2="624.1" stroke="#000" stroke-width="1.4" stroke-linecap="butt"/>
<line x1="120.66" y1="620.3" x2="120.66" y2="622.7" stroke="#000" stroke-width="1.35" stroke-linecap="butt"/>
<line x1="126.72" y1="620.3" x2="126.72" y2="622.7" stroke="#000" stroke-width="1.35" stroke-linecap="butt"/>
<line x1="132.78" y1="620.3" x2="132.78" y2="622.7" stroke="#000" stroke-width="1.35" stroke-linecap="butt"/>
<line x1="138.84" y1="620.3" x2="138.84" y2="622.7" stroke="#000" stroke-width="1.35" stroke-linecap="butt"/>
<line x1="144.9" y1="620.3" x2="144.9" y2="622.7" stroke="#000" stroke-width="1.35" stroke-linecap="butt"/>
<line x1="150.96" y1="620.3" x2="150.96" y2="622.7" stroke="#000" stroke-width="1.35" stroke-linecap="butt"/>
<line x1="157.02" y1="620.3" x2="157.02" y2="622.7" stroke="#000" stroke-width="1.35" stroke-linecap="butt"/>
<line x1="163.08" y1="620.3" x2="163.08" y2="622.7" stroke="#000" stroke-width="1.35" stroke-linecap="butt"/>
<line x1="169.14" y1="620.3" x2="169.14" y2="622.7" stroke="#000" stroke-width="1.35" stroke-linecap="butt"/>
<line x1="175.2" y1="620.3" x2="175.2" y2="624.1" stroke="#000" stroke-width="1.4" stroke-linecap="butt"/>
<line x1="181.26" y1="620.3" x2="181.26" y2="622.7" stroke="#000" stroke-width="1.35" stroke-linecap="butt"/>
<line x1="187.32" y1="620.3" x2="187.32" y2="622.7" stroke="#000" stroke-width="1.35" stroke-linecap="butt"/>
<line x1="193.38" y1="620.3" x2="193.38" y2="622.7" stroke="#000" stroke-width="1.35" stroke-linecap="butt"/>
<line x1="199.44" y1="620.3" x2="199.44" y2="622.7" stroke="#000" stroke-width="1.35" stroke-linecap="butt"/>
<line x1="205.5" y1="620.3" x2="205.5" y2="622.7" stroke="#000" stroke-width="1.35" stroke-linecap="butt"/>
<line x1="211.56" y1="620.3" x2="211.56" y2="622.7" stroke="#000" stroke-width="1.35" stroke-linecap="butt"/>
<line x1="217.62" y1="620.3" x2="217.62" y2="622.7" stroke="#000" stroke-width="1.35" stroke-linecap="butt"/>
<line x1="223.68" y1="620.3" x2="223.68" y2="622.7" stroke="#000" stroke-width="1.35" stroke-linecap="butt"/>
<line x1="229.74" y1="620.3" x2="229.74" y2="622.7" stroke="#000" stroke-width="1.35" stroke-linecap="butt"/>
<line x1="235.8" y1="620.3" x2="235.8" y2="624.1" stroke="#000" stroke-width="1.4" stroke-linecap="butt"/>
<line x1="241.86" y1="620.3" x2="241.86" y2="622.7" stroke="#000" stroke-width="1.35" stroke-linecap="butt"/>
<line x1="247.92" y1="620.3" x2="247.92" y2="622.7" stroke="#000" stroke-width="1.35" stroke-linecap="butt"/>
<line x1="253.98" y1="620.3" x2="253.98" y2="622.7" stroke="#000" stroke-width="1.35" stroke-linecap="butt"/>
<line x1="260.04" y1="620.3" x2="260.04" y2="622.7" stroke="#000" stroke-width="1.35" stroke-linecap="butt"/>
<line x1="266.1" y1="620.3" x2="266.1" y2="622.7" stroke="#000" stroke-width="1.35" stroke-linecap="butt"/>
<line x1="272.16" y1="620.3" x2="272.16" y2="622.7" stroke="#000" stroke-width="1.35" stroke-linecap="butt"/>
<line x1="278.22" y1="620.3" x2="278.22" y2="622.7" stroke="#000" stroke-width="1.35" stroke-linecap="butt"/>
<line x1="284.28" y1="620.3" x2="284.28" y2="622.7" stroke="#000" stroke-width="1.35" stroke-linecap="butt"/>
<line x1="290.34" y1="620.3" x2="290.34" y2="622.7" stroke="#000" stroke-width="1.35" stroke-linecap="butt"/>
<line x1="296.4" y1="620.3" x2="296.4" y2="624.1" stroke="#000" stroke-width="1.4" stroke-linecap="butt"/>
<line x1="302.46" y1="620.3" x2="302.46" y2="622.7" stroke="#000" stroke-width="1.35" stroke-linecap="butt"/>
<line x1="308.52" y1="620.3" x2="308.52" y2="622.7" stroke="#000" stroke-width="1.35" stroke-linecap="butt"/>
<line x1="314.58" y1="620.3" x2="314.58" y2="622.7" stroke="#000" stroke-width="1.35" stroke-linecap="butt"/>
<line x1="320.64" y1="620.3" x2="320.64" y2="622.7" stroke="#000" stroke-width="1.35" stroke-linecap="butt"/>
<line x1="326.7" y1="620.3" x2="326.7" y2="622.7" stroke="#000" stroke-width="1.35" stroke-linecap="butt"/>
<line x1="332.76" y1="620.3" x2="332.76" y2="622.7" stroke="#000" stroke-width="1.35" stroke-linecap="butt"/>
<line x1="338.82" y1="620.3" x2="338.82" y2="622.7" stroke="#000" stroke-width="1.35" stroke-linecap="butt"/>
<line x1="344.88" y1="620.3" x2="344.88" y2="622.7" stroke="#000" stroke-width="1.35" stroke-linecap="butt"/>
<line x1="350.94" y1="620.3" x2="350.94" y2="622.7" stroke="#000" stroke-width="1.35" stroke-linecap="butt"/>
<line x1="357" y1="620.3" x2="357" y2="624.1" stroke="#000" stroke-width="1.4" stroke-linecap="butt"/>
<text transform="translate(49.87,638.65) scale(0.9966,1)" font-size="14.93" font-weight="bold" stroke="#000" stroke-width="0.6">0</text>
<text transform="translate(106.38,638.65) scale(0.9966,1)" font-size="14.93" font-weight="bold" stroke="#000" stroke-width="0.6">20</text>
<text transform="translate(167.13,638.65) scale(0.9966,1)" font-size="14.93" font-weight="bold" stroke="#000" stroke-width="0.6">40</text>
<text transform="translate(227.58,638.65) scale(0.9966,1)" font-size="14.93" font-weight="bold" stroke="#000" stroke-width="0.6">60</text>
<text transform="translate(288.22,638.65) scale(0.9966,1)" font-size="14.93" font-weight="bold" stroke="#000" stroke-width="0.6">80</text>
<text transform="translate(344.43,638.65) scale(0.9966,1)" font-size="14.93" font-weight="bold" stroke="#000" stroke-width="0.6">100</text>
<polyline points="54,620.05 57.03,619.54 60.06,618.79 63.09,618.28 72.18,610.21 75.21,608.95 78.24,607.69 81.27,608.95 84.3,609.71 93.39,608.2 99.45,608.95 141.87,607.69 166.11,618.28 220.65,607.69 308.52,605.17" fill="none" stroke="#000" stroke-width="1.2" stroke-linejoin="round" stroke-dasharray="1.6,1.6"/>
<polyline points="54,620.3 57.03,619.8 60.06,619.29 63.09,618.79 72.18,616.52 75.21,615.26 78.24,614 81.27,614.75 84.3,615.26 93.39,614.75 99.45,615.76 141.87,614.25 166.11,619.04 220.65,618.28 308.52,618.28" fill="none" stroke="#000" stroke-width="1.2" stroke-linejoin="round" stroke-dasharray="1.6,1.6"/>
<polyline points="54,620.3 57.03,620.05 60.06,619.8 63.09,619.54 72.18,618.79 75.21,618.28 78.24,617.78 81.27,618.28 84.3,618.28 93.39,617.78 99.45,618.28 141.87,617.27 166.11,619.54 220.65,619.04 308.52,619.04" fill="none" stroke="#000" stroke-width="1.2" stroke-linejoin="round" stroke-dasharray="1.6,1.6"/>
<polyline points="54,469.02 57.03,479.87 60.06,500.79 63.09,508.86 72.18,494.24 75.21,481.13 78.24,473.56 81.27,483.4 84.3,509.37 93.39,525.25 99.45,538.11 141.87,514.16 166.11,514.16 220.65,528.53 308.52,529.53" fill="none" stroke="#000" stroke-width="1.6" stroke-linejoin="round"/>
<polyline points="54,469.02 57.03,490.46 60.06,508.1 63.09,509.37 72.18,516.93 75.21,514.91 78.24,518.69 81.27,521.72 84.3,564.58 93.39,574.41 99.45,596.1 141.87,569.37 166.11,586.26 220.65,577.44 308.52,583.24" fill="none" stroke="#000" stroke-width="1.6" stroke-linejoin="round"/>
<polyline points="54,485.92 57.03,492.98 60.06,535.84 63.09,533.32 72.18,556.26 75.21,547.94 78.24,547.94 81.27,556.26 84.3,575.67 93.39,585.51 99.45,596.1 141.87,543.91 166.11,595.09 220.65,593.32 308.52,595.09" fill="none" stroke="#000" stroke-width="1.6" stroke-linejoin="round"/>
<line x1="54" y1="457.43" x2="54" y2="480.62" stroke="#000" stroke-width="1.2" stroke-linecap="butt"/>
<line x1="50.5" y1="457.43" x2="57.5" y2="457.43" stroke="#000" stroke-width="1.2" stroke-linecap="butt"/>
<line x1="50.5" y1="480.62" x2="57.5" y2="480.62" stroke="#000" stroke-width="1.2" stroke-linecap="butt"/>
<line x1="57.03" y1="452.38" x2="57.03" y2="507.35" stroke="#000" stroke-width="1.2" stroke-linecap="butt"/>
<line x1="53.53" y1="452.38" x2="60.53" y2="452.38" stroke="#000" stroke-width="1.2" stroke-linecap="butt"/>
<line x1="53.53" y1="507.35" x2="60.53" y2="507.35" stroke="#000" stroke-width="1.2" stroke-linecap="butt"/>
<line x1="57.03" y1="479.11" x2="57.03" y2="501.8" stroke="#000" stroke-width="1.2" stroke-linecap="butt"/>
<line x1="53.53" y1="479.11" x2="60.53" y2="479.11" stroke="#000" stroke-width="1.2" stroke-linecap="butt"/>
<line x1="53.53" y1="501.8" x2="60.53" y2="501.8" stroke="#000" stroke-width="1.2" stroke-linecap="butt"/>
<line x1="60.06" y1="461.46" x2="60.06" y2="541.89" stroke="#000" stroke-width="1.2" stroke-linecap="butt"/>
<line x1="56.56" y1="461.46" x2="63.56" y2="461.46" stroke="#000" stroke-width="1.2" stroke-linecap="butt"/>
<line x1="56.56" y1="541.89" x2="63.56" y2="541.89" stroke="#000" stroke-width="1.2" stroke-linecap="butt"/>
<line x1="63.09" y1="490.71" x2="63.09" y2="526.01" stroke="#000" stroke-width="1.2" stroke-linecap="butt"/>
<line x1="59.59" y1="490.71" x2="66.59" y2="490.71" stroke="#000" stroke-width="1.2" stroke-linecap="butt"/>
<line x1="59.59" y1="526.01" x2="66.59" y2="526.01" stroke="#000" stroke-width="1.2" stroke-linecap="butt"/>
<line x1="63.09" y1="519.45" x2="63.09" y2="547.18" stroke="#000" stroke-width="1.2" stroke-linecap="butt"/>
<line x1="59.59" y1="519.45" x2="66.59" y2="519.45" stroke="#000" stroke-width="1.2" stroke-linecap="butt"/>
<line x1="59.59" y1="547.18" x2="66.59" y2="547.18" stroke="#000" stroke-width="1.2" stroke-linecap="butt"/>
<line x1="72.18" y1="464.74" x2="72.18" y2="539.87" stroke="#000" stroke-width="1.2" stroke-linecap="butt"/>
<line x1="68.68" y1="464.74" x2="75.68" y2="464.74" stroke="#000" stroke-width="1.2" stroke-linecap="butt"/>
<line x1="68.68" y1="539.87" x2="75.68" y2="539.87" stroke="#000" stroke-width="1.2" stroke-linecap="butt"/>
<line x1="72.18" y1="474.82" x2="72.18" y2="570.38" stroke="#000" stroke-width="1.2" stroke-linecap="butt"/>
<line x1="68.68" y1="474.82" x2="75.68" y2="474.82" stroke="#000" stroke-width="1.2" stroke-linecap="butt"/>
<line x1="68.68" y1="570.38" x2="75.68" y2="570.38" stroke="#000" stroke-width="1.2" stroke-linecap="butt"/>
<line x1="75.21" y1="445.07" x2="75.21" y2="581.72" stroke="#000" stroke-width="1.2" stroke-linecap="butt"/>
<line x1="71.71" y1="445.07" x2="78.71" y2="445.07" stroke="#000" stroke-width="1.2" stroke-linecap="butt"/>
<line x1="71.71" y1="581.72" x2="78.71" y2="581.72" stroke="#000" stroke-width="1.2" stroke-linecap="butt"/>
<line x1="75.21" y1="494.24" x2="75.21" y2="524.49" stroke="#000" stroke-width="1.2" stroke-linecap="butt"/>
<line x1="71.71" y1="494.24" x2="78.71" y2="494.24" stroke="#000" stroke-width="1.2" stroke-linecap="butt"/>
<line x1="71.71" y1="524.49" x2="78.71" y2="524.49" stroke="#000" stroke-width="1.2" stroke-linecap="butt"/>
<line x1="78.24" y1="450.87" x2="78.24" y2="586.26" stroke="#000" stroke-width="1.2" stroke-linecap="butt"/>
<line x1="74.74" y1="450.87" x2="81.74" y2="450.87" stroke="#000" stroke-width="1.2" stroke-linecap="butt"/>
<line x1="74.74" y1="586.26" x2="81.74" y2="586.26" stroke="#000" stroke-width="1.2" stroke-linecap="butt"/>
<line x1="81.27" y1="470.03" x2="81.27" y2="587.02" stroke="#000" stroke-width="1.2" stroke-linecap="butt"/>
<line x1="77.77" y1="470.03" x2="84.77" y2="470.03" stroke="#000" stroke-width="1.2" stroke-linecap="butt"/>
<line x1="77.77" y1="587.02" x2="84.77" y2="587.02" stroke="#000" stroke-width="1.2" stroke-linecap="butt"/>
<line x1="81.27" y1="514.41" x2="81.27" y2="529.53" stroke="#000" stroke-width="1.2" stroke-linecap="butt"/>
<line x1="77.77" y1="514.41" x2="84.77" y2="514.41" stroke="#000" stroke-width="1.2" stroke-linecap="butt"/>
<line x1="77.77" y1="529.53" x2="84.77" y2="529.53" stroke="#000" stroke-width="1.2" stroke-linecap="butt"/>
<line x1="84.3" y1="499.78" x2="84.3" y2="595.34" stroke="#000" stroke-width="1.2" stroke-linecap="butt"/>
<line x1="80.8" y1="499.78" x2="87.8" y2="499.78" stroke="#000" stroke-width="1.2" stroke-linecap="butt"/>
<line x1="80.8" y1="595.34" x2="87.8" y2="595.34" stroke="#000" stroke-width="1.2" stroke-linecap="butt"/>
<line x1="84.3" y1="544.66" x2="84.3" y2="590.04" stroke="#000" stroke-width="1.2" stroke-linecap="butt"/>
<line x1="80.8" y1="544.66" x2="87.8" y2="544.66" stroke="#000" stroke-width="1.2" stroke-linecap="butt"/>
<line x1="80.8" y1="590.04" x2="87.8" y2="590.04" stroke="#000" stroke-width="1.2" stroke-linecap="butt"/>
<line x1="93.39" y1="514.91" x2="93.39" y2="535.59" stroke="#000" stroke-width="1.2" stroke-linecap="butt"/>
<line x1="89.89" y1="514.91" x2="96.89" y2="514.91" stroke="#000" stroke-width="1.2" stroke-linecap="butt"/>
<line x1="89.89" y1="535.59" x2="96.89" y2="535.59" stroke="#000" stroke-width="1.2" stroke-linecap="butt"/>
<line x1="93.39" y1="560.8" x2="93.39" y2="580.21" stroke="#000" stroke-width="1.2" stroke-linecap="butt"/>
<line x1="89.89" y1="560.8" x2="96.89" y2="560.8" stroke="#000" stroke-width="1.2" stroke-linecap="butt"/>
<line x1="89.89" y1="580.21" x2="96.89" y2="580.21" stroke="#000" stroke-width="1.2" stroke-linecap="butt"/>
<line x1="93.39" y1="525.25" x2="93.39" y2="560.8" stroke="#000" stroke-width="1.2" stroke-linecap="butt"/>
<line x1="99.45" y1="533.32" x2="99.45" y2="542.9" stroke="#000" stroke-width="1.2" stroke-linecap="butt"/>
<line x1="95.95" y1="533.32" x2="102.95" y2="533.32" stroke="#000" stroke-width="1.2" stroke-linecap="butt"/>
<line x1="95.95" y1="542.9" x2="102.95" y2="542.9" stroke="#000" stroke-width="1.2" stroke-linecap="butt"/>
<line x1="99.45" y1="565.34" x2="99.45" y2="617.78" stroke="#000" stroke-width="1.2" stroke-linecap="butt"/>
<line x1="95.95" y1="565.34" x2="102.95" y2="565.34" stroke="#000" stroke-width="1.2" stroke-linecap="butt"/>
<line x1="95.95" y1="617.78" x2="102.95" y2="617.78" stroke="#000" stroke-width="1.2" stroke-linecap="butt"/>
<line x1="141.87" y1="499.03" x2="141.87" y2="602.65" stroke="#000" stroke-width="1.2" stroke-linecap="butt"/>
<line x1="138.37" y1="499.03" x2="145.37" y2="499.03" stroke="#000" stroke-width="1.2" stroke-linecap="butt"/>
<line x1="138.37" y1="602.65" x2="145.37" y2="602.65" stroke="#000" stroke-width="1.2" stroke-linecap="butt"/>
<line x1="141.87" y1="507.1" x2="141.87" y2="507.1" stroke="#000" stroke-width="1.2" stroke-linecap="butt"/>
<line x1="138.37" y1="507.1" x2="145.37" y2="507.1" stroke="#000" stroke-width="1.2" stroke-linecap="butt"/>
<line x1="138.37" y1="507.1" x2="145.37" y2="507.1" stroke="#000" stroke-width="1.2" stroke-linecap="butt"/>
<line x1="141.87" y1="510.12" x2="141.87" y2="510.12" stroke="#000" stroke-width="1.2" stroke-linecap="butt"/>
<line x1="138.37" y1="510.12" x2="145.37" y2="510.12" stroke="#000" stroke-width="1.2" stroke-linecap="butt"/>
<line x1="138.37" y1="510.12" x2="145.37" y2="510.12" stroke="#000" stroke-width="1.2" stroke-linecap="butt"/>
<line x1="141.87" y1="521.97" x2="141.87" y2="521.97" stroke="#000" stroke-width="1.2" stroke-linecap="butt"/>
<line x1="138.37" y1="521.97" x2="145.37" y2="521.97" stroke="#000" stroke-width="1.2" stroke-linecap="butt"/>
<line x1="138.37" y1="521.97" x2="145.37" y2="521.97" stroke="#000" stroke-width="1.2" stroke-linecap="butt"/>
<line x1="141.87" y1="578.7" x2="141.87" y2="578.7" stroke="#000" stroke-width="1.2" stroke-linecap="butt"/>
<line x1="138.37" y1="578.7" x2="145.37" y2="578.7" stroke="#000" stroke-width="1.2" stroke-linecap="butt"/>
<line x1="138.37" y1="578.7" x2="145.37" y2="578.7" stroke="#000" stroke-width="1.2" stroke-linecap="butt"/>
<line x1="141.87" y1="599.12" x2="141.87" y2="599.12" stroke="#000" stroke-width="1.2" stroke-linecap="butt"/>
<line x1="138.37" y1="599.12" x2="145.37" y2="599.12" stroke="#000" stroke-width="1.2" stroke-linecap="butt"/>
<line x1="138.37" y1="599.12" x2="145.37" y2="599.12" stroke="#000" stroke-width="1.2" stroke-linecap="butt"/>
<line x1="166.11" y1="511.89" x2="166.11" y2="516.42" stroke="#000" stroke-width="1.2" stroke-linecap="butt"/>
<line x1="162.61" y1="511.89" x2="169.61" y2="511.89" stroke="#000" stroke-width="1.2" stroke-linecap="butt"/>
<line x1="162.61" y1="516.42" x2="169.61" y2="516.42" stroke="#000" stroke-width="1.2" stroke-linecap="butt"/>
<line x1="166.11" y1="538.86" x2="166.11" y2="611.73" stroke="#000" stroke-width="1.2" stroke-linecap="butt"/>
<line x1="162.61" y1="538.86" x2="169.61" y2="538.86" stroke="#000" stroke-width="1.2" stroke-linecap="butt"/>
<line x1="162.61" y1="611.73" x2="169.61" y2="611.73" stroke="#000" stroke-width="1.2" stroke-linecap="butt"/>
<line x1="166.11" y1="560.55" x2="166.11" y2="560.55" stroke="#000" stroke-width="1.2" stroke-linecap="butt"/>
<line x1="162.61" y1="560.55" x2="169.61" y2="560.55" stroke="#000" stroke-width="1.2" stroke-linecap="butt"/>
<line x1="220.65" y1="516.42" x2="220.65" y2="528.53" stroke="#000" stroke-width="1.2" stroke-linecap="butt"/>
<line x1="217.15" y1="516.42" x2="224.15" y2="516.42" stroke="#000" stroke-width="1.2" stroke-linecap="butt"/>
<line x1="220.65" y1="556.26" x2="220.65" y2="598.11" stroke="#000" stroke-width="1.2" stroke-linecap="butt"/>
<line x1="217.15" y1="556.26" x2="224.15" y2="556.26" stroke="#000" stroke-width="1.2" stroke-linecap="butt"/>
<line x1="217.15" y1="598.11" x2="224.15" y2="598.11" stroke="#000" stroke-width="1.2" stroke-linecap="butt"/>
<line x1="220.65" y1="528.53" x2="220.65" y2="618.28" stroke="#000" stroke-width="1.2" stroke-linecap="butt"/>
<line x1="308.52" y1="527.01" x2="308.52" y2="532.81" stroke="#000" stroke-width="1.2" stroke-linecap="butt"/>
<line x1="305.02" y1="527.01" x2="312.02" y2="527.01" stroke="#000" stroke-width="1.2" stroke-linecap="butt"/>
<line x1="305.02" y1="532.81" x2="312.02" y2="532.81" stroke="#000" stroke-width="1.2" stroke-linecap="butt"/>
<line x1="308.52" y1="563.57" x2="308.52" y2="603.91" stroke="#000" stroke-width="1.2" stroke-linecap="butt"/>
<line x1="305.02" y1="563.57" x2="312.02" y2="563.57" stroke="#000" stroke-width="1.2" stroke-linecap="butt"/>
<line x1="305.02" y1="603.91" x2="312.02" y2="603.91" stroke="#000" stroke-width="1.2" stroke-linecap="butt"/>
<line x1="308.52" y1="529.53" x2="308.52" y2="617.78" stroke="#000" stroke-width="1.2" stroke-linecap="butt"/>
<line x1="72.18" y1="604.67" x2="72.18" y2="615.26" stroke="#000" stroke-width="1.3" stroke-linecap="butt"/>
<line x1="68.93" y1="604.67" x2="75.43" y2="604.67" stroke="#000" stroke-width="1.3" stroke-linecap="butt"/>
<line x1="68.93" y1="615.26" x2="75.43" y2="615.26" stroke="#000" stroke-width="1.3" stroke-linecap="butt"/>
<line x1="75.21" y1="603.66" x2="75.21" y2="614.25" stroke="#000" stroke-width="1.3" stroke-linecap="butt"/>
<line x1="71.96" y1="603.66" x2="78.46" y2="603.66" stroke="#000" stroke-width="1.3" stroke-linecap="butt"/>
<line x1="71.96" y1="614.25" x2="78.46" y2="614.25" stroke="#000" stroke-width="1.3" stroke-linecap="butt"/>
<line x1="78.24" y1="602.65" x2="78.24" y2="612.74" stroke="#000" stroke-width="1.3" stroke-linecap="butt"/>
<line x1="74.99" y1="602.65" x2="81.49" y2="602.65" stroke="#000" stroke-width="1.3" stroke-linecap="butt"/>
<line x1="74.99" y1="612.74" x2="81.49" y2="612.74" stroke="#000" stroke-width="1.3" stroke-linecap="butt"/>
<line x1="81.27" y1="603.66" x2="81.27" y2="614.25" stroke="#000" stroke-width="1.3" stroke-linecap="butt"/>
<line x1="78.02" y1="603.66" x2="84.52" y2="603.66" stroke="#000" stroke-width="1.3" stroke-linecap="butt"/>
<line x1="78.02" y1="614.25" x2="84.52" y2="614.25" stroke="#000" stroke-width="1.3" stroke-linecap="butt"/>
<line x1="84.3" y1="604.67" x2="84.3" y2="614.75" stroke="#000" stroke-width="1.3" stroke-linecap="butt"/>
<line x1="81.05" y1="604.67" x2="87.55" y2="604.67" stroke="#000" stroke-width="1.3" stroke-linecap="butt"/>
<line x1="81.05" y1="614.75" x2="87.55" y2="614.75" stroke="#000" stroke-width="1.3" stroke-linecap="butt"/>
<line x1="93.39" y1="603.66" x2="93.39" y2="612.74" stroke="#000" stroke-width="1.3" stroke-linecap="butt"/>
<line x1="90.14" y1="603.66" x2="96.64" y2="603.66" stroke="#000" stroke-width="1.3" stroke-linecap="butt"/>
<line x1="90.14" y1="612.74" x2="96.64" y2="612.74" stroke="#000" stroke-width="1.3" stroke-linecap="butt"/>
<line x1="99.45" y1="604.67" x2="99.45" y2="613.24" stroke="#000" stroke-width="1.3" stroke-linecap="butt"/>
<line x1="96.2" y1="604.67" x2="102.7" y2="604.67" stroke="#000" stroke-width="1.3" stroke-linecap="butt"/>
<line x1="96.2" y1="613.24" x2="102.7" y2="613.24" stroke="#000" stroke-width="1.3" stroke-linecap="butt"/>
<line x1="141.87" y1="602.65" x2="141.87" y2="612.74" stroke="#000" stroke-width="1.3" stroke-linecap="butt"/>
<line x1="138.62" y1="602.65" x2="145.12" y2="602.65" stroke="#000" stroke-width="1.3" stroke-linecap="butt"/>
<line x1="138.62" y1="612.74" x2="145.12" y2="612.74" stroke="#000" stroke-width="1.3" stroke-linecap="butt"/>
<polygon points="54,616.47 57.25,622.97 50.75,622.97" fill="#fff" stroke="#000" stroke-width="1.9" stroke-linejoin="miter"/>
<polygon points="57.03,615.97 60.28,622.47 53.78,622.47" fill="#fff" stroke="#000" stroke-width="1.9" stroke-linejoin="miter"/>
<polygon points="60.06,615.21 63.31,621.71 56.81,621.71" fill="#fff" stroke="#000" stroke-width="1.9" stroke-linejoin="miter"/>
<polygon points="63.09,614.71 66.34,621.21 59.84,621.21" fill="#fff" stroke="#000" stroke-width="1.9" stroke-linejoin="miter"/>
<polygon points="72.18,606.64 75.43,613.14 68.93,613.14" fill="#fff" stroke="#000" stroke-width="1.9" stroke-linejoin="miter"/>
<polygon points="75.21,605.38 78.46,611.88 71.96,611.88" fill="#fff" stroke="#000" stroke-width="1.9" stroke-linejoin="miter"/>
<polygon points="78.24,604.12 81.49,610.62 74.99,610.62" fill="#fff" stroke="#000" stroke-width="1.9" stroke-linejoin="miter"/>
<polygon points="81.27,605.38 84.52,611.88 78.02,611.88" fill="#fff" stroke="#000" stroke-width="1.9" stroke-linejoin="miter"/>
<polygon points="84.3,606.14 87.55,612.64 81.05,612.64" fill="#fff" stroke="#000" stroke-width="1.9" stroke-linejoin="miter"/>
<polygon points="93.39,604.62 96.64,611.12 90.14,611.12" fill="#fff" stroke="#000" stroke-width="1.9" stroke-linejoin="miter"/>
<polygon points="99.45,605.38 102.7,611.88 96.2,611.88" fill="#fff" stroke="#000" stroke-width="1.9" stroke-linejoin="miter"/>
<polygon points="141.87,604.12 145.12,610.62 138.62,610.62" fill="#fff" stroke="#000" stroke-width="1.9" stroke-linejoin="miter"/>
<polygon points="166.11,614.71 169.36,621.21 162.86,621.21" fill="#fff" stroke="#000" stroke-width="1.9" stroke-linejoin="miter"/>
<polygon points="220.65,604.12 223.9,610.62 217.4,610.62" fill="#fff" stroke="#000" stroke-width="1.9" stroke-linejoin="miter"/>
<polygon points="308.52,601.6 311.77,608.1 305.27,608.1" fill="#fff" stroke="#000" stroke-width="1.9" stroke-linejoin="miter"/>
<circle cx="54" cy="620.3" r="2.7" fill="#fff" stroke="#000" stroke-width="1.8"/>
<circle cx="57.03" cy="619.8" r="2.7" fill="#fff" stroke="#000" stroke-width="1.8"/>
<circle cx="60.06" cy="619.29" r="2.7" fill="#fff" stroke="#000" stroke-width="1.8"/>
<circle cx="63.09" cy="618.79" r="2.7" fill="#fff" stroke="#000" stroke-width="1.8"/>
<circle cx="72.18" cy="616.52" r="2.7" fill="#fff" stroke="#000" stroke-width="1.8"/>
<circle cx="75.21" cy="615.26" r="2.7" fill="#fff" stroke="#000" stroke-width="1.8"/>
<circle cx="78.24" cy="614" r="2.7" fill="#fff" stroke="#000" stroke-width="1.8"/>
<circle cx="81.27" cy="614.75" r="2.7" fill="#fff" stroke="#000" stroke-width="1.8"/>
<circle cx="84.3" cy="615.26" r="2.7" fill="#fff" stroke="#000" stroke-width="1.8"/>
<circle cx="93.39" cy="614.75" r="2.7" fill="#fff" stroke="#000" stroke-width="1.8"/>
<circle cx="99.45" cy="615.76" r="2.7" fill="#fff" stroke="#000" stroke-width="1.8"/>
<circle cx="141.87" cy="614.25" r="2.7" fill="#fff" stroke="#000" stroke-width="1.8"/>
<circle cx="166.11" cy="619.04" r="2.7" fill="#fff" stroke="#000" stroke-width="1.8"/>
<circle cx="220.65" cy="618.28" r="2.7" fill="#fff" stroke="#000" stroke-width="1.8"/>
<circle cx="308.52" cy="618.28" r="2.7" fill="#fff" stroke="#000" stroke-width="1.8"/>
<polygon points="72.18,606.64 75.43,613.14 68.93,613.14" fill="#fff" stroke="#000" stroke-width="1.9" stroke-linejoin="miter"/>
<polygon points="75.21,605.38 78.46,611.88 71.96,611.88" fill="#fff" stroke="#000" stroke-width="1.9" stroke-linejoin="miter"/>
<polygon points="78.24,604.12 81.49,610.62 74.99,610.62" fill="#fff" stroke="#000" stroke-width="1.9" stroke-linejoin="miter"/>
<polygon points="81.27,605.38 84.52,611.88 78.02,611.88" fill="#fff" stroke="#000" stroke-width="1.9" stroke-linejoin="miter"/>
<polygon points="84.3,606.14 87.55,612.64 81.05,612.64" fill="#fff" stroke="#000" stroke-width="1.9" stroke-linejoin="miter"/>
<polygon points="93.39,604.62 96.64,611.12 90.14,611.12" fill="#fff" stroke="#000" stroke-width="1.9" stroke-linejoin="miter"/>
<polygon points="99.45,605.38 102.7,611.88 96.2,611.88" fill="#fff" stroke="#000" stroke-width="1.9" stroke-linejoin="miter"/>
<rect x="49.7" y="616" width="8.6" height="8.6" fill="#111"/>
<circle cx="54" cy="620.3" r="1.89" fill="none" stroke="#777" stroke-width="0.7"/>
<rect x="52.73" y="615.75" width="8.6" height="8.6" fill="#111"/>
<circle cx="57.03" cy="620.05" r="1.89" fill="none" stroke="#777" stroke-width="0.7"/>
<rect x="55.76" y="615.5" width="8.6" height="8.6" fill="#111"/>
<circle cx="60.06" cy="619.8" r="1.89" fill="none" stroke="#777" stroke-width="0.7"/>
<rect x="58.79" y="615.24" width="8.6" height="8.6" fill="#111"/>
<circle cx="63.09" cy="619.54" r="1.89" fill="none" stroke="#777" stroke-width="0.7"/>
<rect x="67.88" y="614.49" width="8.6" height="8.6" fill="#111"/>
<circle cx="72.18" cy="618.79" r="1.89" fill="none" stroke="#777" stroke-width="0.7"/>
<rect x="70.91" y="613.98" width="8.6" height="8.6" fill="#111"/>
<circle cx="75.21" cy="618.28" r="1.89" fill="none" stroke="#777" stroke-width="0.7"/>
<rect x="73.94" y="613.48" width="8.6" height="8.6" fill="#111"/>
<circle cx="78.24" cy="617.78" r="1.89" fill="none" stroke="#777" stroke-width="0.7"/>
<rect x="76.97" y="613.98" width="8.6" height="8.6" fill="#111"/>
<circle cx="81.27" cy="618.28" r="1.89" fill="none" stroke="#777" stroke-width="0.7"/>
<rect x="80" y="613.98" width="8.6" height="8.6" fill="#111"/>
<circle cx="84.3" cy="618.28" r="1.89" fill="none" stroke="#777" stroke-width="0.7"/>
<rect x="89.09" y="613.48" width="8.6" height="8.6" fill="#111"/>
<circle cx="93.39" cy="617.78" r="1.89" fill="none" stroke="#777" stroke-width="0.7"/>
<rect x="95.15" y="613.98" width="8.6" height="8.6" fill="#111"/>
<circle cx="99.45" cy="618.28" r="1.89" fill="none" stroke="#777" stroke-width="0.7"/>
<rect x="138.92" y="614.32" width="5.9" height="5.9" fill="#fff" stroke="#000" stroke-width="2.1"/>
<rect x="163.16" y="616.59" width="5.9" height="5.9" fill="#fff" stroke="#000" stroke-width="2.1"/>
<rect x="217.7" y="616.09" width="5.9" height="5.9" fill="#fff" stroke="#000" stroke-width="2.1"/>
<rect x="305.57" y="616.09" width="5.9" height="5.9" fill="#fff" stroke="#000" stroke-width="2.1"/>
<circle cx="141.87" cy="614.25" r="2.7" fill="#fff" stroke="#000" stroke-width="1.8"/>
<circle cx="166.11" cy="619.04" r="2.7" fill="#fff" stroke="#000" stroke-width="1.8"/>
<circle cx="220.65" cy="618.28" r="2.7" fill="#fff" stroke="#000" stroke-width="1.8"/>
<circle cx="308.52" cy="618.28" r="2.7" fill="#fff" stroke="#000" stroke-width="1.8"/>
<rect x="50.25" y="465.27" width="7.5" height="7.5" fill="#000" stroke="#000" stroke-width="0"/>
<rect x="53.28" y="476.12" width="7.5" height="7.5" fill="#000" stroke="#000" stroke-width="0"/>
<rect x="56.31" y="497.04" width="7.5" height="7.5" fill="#000" stroke="#000" stroke-width="0"/>
<rect x="59.34" y="505.11" width="7.5" height="7.5" fill="#000" stroke="#000" stroke-width="0"/>
<rect x="68.43" y="490.49" width="7.5" height="7.5" fill="#000" stroke="#000" stroke-width="0"/>
<rect x="71.46" y="477.38" width="7.5" height="7.5" fill="#000" stroke="#000" stroke-width="0"/>
<rect x="74.49" y="469.81" width="7.5" height="7.5" fill="#000" stroke="#000" stroke-width="0"/>
<rect x="77.52" y="479.65" width="7.5" height="7.5" fill="#000" stroke="#000" stroke-width="0"/>
<rect x="80.55" y="505.62" width="7.5" height="7.5" fill="#000" stroke="#000" stroke-width="0"/>
<rect x="89.64" y="521.5" width="7.5" height="7.5" fill="#000" stroke="#000" stroke-width="0"/>
<rect x="95.7" y="534.36" width="7.5" height="7.5" fill="#000" stroke="#000" stroke-width="0"/>
<rect x="138.12" y="510.41" width="7.5" height="7.5" fill="#000" stroke="#000" stroke-width="0"/>
<rect x="162.36" y="510.41" width="7.5" height="7.5" fill="#000" stroke="#000" stroke-width="0"/>
<rect x="216.9" y="524.78" width="7.5" height="7.5" fill="#000" stroke="#000" stroke-width="0"/>
<rect x="304.77" y="525.78" width="7.5" height="7.5" fill="#000" stroke="#000" stroke-width="0"/>
<polygon points="54,481.96 57.6,489.16 50.4,489.16" fill="#000" stroke="#000" stroke-width="0" stroke-linejoin="miter"/>
<polygon points="57.03,489.02 60.63,496.22 53.43,496.22" fill="#000" stroke="#000" stroke-width="0" stroke-linejoin="miter"/>
<polygon points="60.06,531.88 63.66,539.08 56.46,539.08" fill="#000" stroke="#000" stroke-width="0" stroke-linejoin="miter"/>
<polygon points="63.09,529.36 66.69,536.56 59.49,536.56" fill="#000" stroke="#000" stroke-width="0" stroke-linejoin="miter"/>
<polygon points="72.18,552.3 75.78,559.5 68.58,559.5" fill="#000" stroke="#000" stroke-width="0" stroke-linejoin="miter"/>
<polygon points="75.21,543.98 78.81,551.18 71.61,551.18" fill="#000" stroke="#000" stroke-width="0" stroke-linejoin="miter"/>
<polygon points="78.24,543.98 81.84,551.18 74.64,551.18" fill="#000" stroke="#000" stroke-width="0" stroke-linejoin="miter"/>
<polygon points="81.27,552.3 84.87,559.5 77.67,559.5" fill="#000" stroke="#000" stroke-width="0" stroke-linejoin="miter"/>
<polygon points="84.3,571.71 87.9,578.91 80.7,578.91" fill="#000" stroke="#000" stroke-width="0" stroke-linejoin="miter"/>
<polygon points="93.39,581.55 96.99,588.75 89.79,588.75" fill="#000" stroke="#000" stroke-width="0" stroke-linejoin="miter"/>
<polygon points="99.45,592.14 103.05,599.34 95.85,599.34" fill="#000" stroke="#000" stroke-width="0" stroke-linejoin="miter"/>
<polygon points="141.87,539.95 145.47,547.15 138.27,547.15" fill="#000" stroke="#000" stroke-width="0" stroke-linejoin="miter"/>
<polygon points="166.11,591.13 169.71,598.33 162.51,598.33" fill="#000" stroke="#000" stroke-width="0" stroke-linejoin="miter"/>
<polygon points="220.65,589.36 224.25,596.56 217.05,596.56" fill="#000" stroke="#000" stroke-width="0" stroke-linejoin="miter"/>
<polygon points="308.52,591.13 312.12,598.33 304.92,598.33" fill="#000" stroke="#000" stroke-width="0" stroke-linejoin="miter"/>
<circle cx="54" cy="469.02" r="3.7" fill="#000" stroke="#000" stroke-width="0"/>
<circle cx="57.03" cy="490.46" r="3.7" fill="#000" stroke="#000" stroke-width="0"/>
<circle cx="60.06" cy="508.1" r="3.7" fill="#000" stroke="#000" stroke-width="0"/>
<circle cx="63.09" cy="509.37" r="3.7" fill="#000" stroke="#000" stroke-width="0"/>
<circle cx="72.18" cy="516.93" r="3.7" fill="#000" stroke="#000" stroke-width="0"/>
<circle cx="75.21" cy="514.91" r="3.7" fill="#000" stroke="#000" stroke-width="0"/>
<circle cx="78.24" cy="518.69" r="3.7" fill="#000" stroke="#000" stroke-width="0"/>
<circle cx="81.27" cy="521.72" r="3.7" fill="#000" stroke="#000" stroke-width="0"/>
<circle cx="84.3" cy="564.58" r="3.7" fill="#000" stroke="#000" stroke-width="0"/>
<circle cx="93.39" cy="574.41" r="3.7" fill="#000" stroke="#000" stroke-width="0"/>
<circle cx="99.45" cy="596.1" r="3.7" fill="#000" stroke="#000" stroke-width="0"/>
<circle cx="141.87" cy="569.37" r="3.7" fill="#000" stroke="#000" stroke-width="0"/>
<circle cx="166.11" cy="586.26" r="3.7" fill="#000" stroke="#000" stroke-width="0"/>
<circle cx="220.65" cy="577.44" r="3.7" fill="#000" stroke="#000" stroke-width="0"/>
<circle cx="308.52" cy="583.24" r="3.7" fill="#000" stroke="#000" stroke-width="0"/>
<circle cx="54" cy="469.02" r="4.5" fill="#000" stroke="#000" stroke-width="0"/>
<line x1="445.8" y1="425.1" x2="445.8" y2="622.5" stroke="#000" stroke-width="1.7" stroke-linecap="butt"/>
<line x1="442.2" y1="621.7" x2="445.8" y2="621.7" stroke="#000" stroke-width="1.4" stroke-linecap="butt"/>
<line x1="443.6" y1="616.8" x2="445.8" y2="616.8" stroke="#000" stroke-width="1.35" stroke-linecap="butt"/>
<line x1="443.6" y1="611.9" x2="445.8" y2="611.9" stroke="#000" stroke-width="1.35" stroke-linecap="butt"/>
<line x1="443.6" y1="607" x2="445.8" y2="607" stroke="#000" stroke-width="1.35" stroke-linecap="butt"/>
<line x1="443.6" y1="602.1" x2="445.8" y2="602.1" stroke="#000" stroke-width="1.35" stroke-linecap="butt"/>
<line x1="443.6" y1="597.2" x2="445.8" y2="597.2" stroke="#000" stroke-width="1.35" stroke-linecap="butt"/>
<line x1="443.6" y1="592.3" x2="445.8" y2="592.3" stroke="#000" stroke-width="1.35" stroke-linecap="butt"/>
<line x1="443.6" y1="587.4" x2="445.8" y2="587.4" stroke="#000" stroke-width="1.35" stroke-linecap="butt"/>
<line x1="443.6" y1="582.5" x2="445.8" y2="582.5" stroke="#000" stroke-width="1.35" stroke-linecap="butt"/>
<line x1="443.6" y1="577.6" x2="445.8" y2="577.6" stroke="#000" stroke-width="1.35" stroke-linecap="butt"/>
<line x1="442.2" y1="572.7" x2="445.8" y2="572.7" stroke="#000" stroke-width="1.4" stroke-linecap="butt"/>
<line x1="443.6" y1="567.8" x2="445.8" y2="567.8" stroke="#000" stroke-width="1.35" stroke-linecap="butt"/>
<line x1="443.6" y1="562.9" x2="445.8" y2="562.9" stroke="#000" stroke-width="1.35" stroke-linecap="butt"/>
<line x1="443.6" y1="558" x2="445.8" y2="558" stroke="#000" stroke-width="1.35" stroke-linecap="butt"/>
<line x1="443.6" y1="553.1" x2="445.8" y2="553.1" stroke="#000" stroke-width="1.35" stroke-linecap="butt"/>
<line x1="443.6" y1="548.2" x2="445.8" y2="548.2" stroke="#000" stroke-width="1.35" stroke-linecap="butt"/>
<line x1="443.6" y1="543.3" x2="445.8" y2="543.3" stroke="#000" stroke-width="1.35" stroke-linecap="butt"/>
<line x1="443.6" y1="538.4" x2="445.8" y2="538.4" stroke="#000" stroke-width="1.35" stroke-linecap="butt"/>
<line x1="443.6" y1="533.5" x2="445.8" y2="533.5" stroke="#000" stroke-width="1.35" stroke-linecap="butt"/>
<line x1="443.6" y1="528.6" x2="445.8" y2="528.6" stroke="#000" stroke-width="1.35" stroke-linecap="butt"/>
<line x1="442.2" y1="523.7" x2="445.8" y2="523.7" stroke="#000" stroke-width="1.4" stroke-linecap="butt"/>
<line x1="443.6" y1="518.8" x2="445.8" y2="518.8" stroke="#000" stroke-width="1.35" stroke-linecap="butt"/>
<line x1="443.6" y1="513.9" x2="445.8" y2="513.9" stroke="#000" stroke-width="1.35" stroke-linecap="butt"/>
<line x1="443.6" y1="509" x2="445.8" y2="509" stroke="#000" stroke-width="1.35" stroke-linecap="butt"/>
<line x1="443.6" y1="504.1" x2="445.8" y2="504.1" stroke="#000" stroke-width="1.35" stroke-linecap="butt"/>
<line x1="443.6" y1="499.2" x2="445.8" y2="499.2" stroke="#000" stroke-width="1.35" stroke-linecap="butt"/>
<line x1="443.6" y1="494.3" x2="445.8" y2="494.3" stroke="#000" stroke-width="1.35" stroke-linecap="butt"/>
<line x1="443.6" y1="489.4" x2="445.8" y2="489.4" stroke="#000" stroke-width="1.35" stroke-linecap="butt"/>
<line x1="443.6" y1="484.5" x2="445.8" y2="484.5" stroke="#000" stroke-width="1.35" stroke-linecap="butt"/>
<line x1="443.6" y1="479.6" x2="445.8" y2="479.6" stroke="#000" stroke-width="1.35" stroke-linecap="butt"/>
<line x1="442.2" y1="474.7" x2="445.8" y2="474.7" stroke="#000" stroke-width="1.4" stroke-linecap="butt"/>
<line x1="443.6" y1="469.8" x2="445.8" y2="469.8" stroke="#000" stroke-width="1.35" stroke-linecap="butt"/>
<line x1="443.6" y1="464.9" x2="445.8" y2="464.9" stroke="#000" stroke-width="1.35" stroke-linecap="butt"/>
<line x1="443.6" y1="460" x2="445.8" y2="460" stroke="#000" stroke-width="1.35" stroke-linecap="butt"/>
<line x1="443.6" y1="455.1" x2="445.8" y2="455.1" stroke="#000" stroke-width="1.35" stroke-linecap="butt"/>
<line x1="443.6" y1="450.2" x2="445.8" y2="450.2" stroke="#000" stroke-width="1.35" stroke-linecap="butt"/>
<line x1="443.6" y1="445.3" x2="445.8" y2="445.3" stroke="#000" stroke-width="1.35" stroke-linecap="butt"/>
<line x1="443.6" y1="440.4" x2="445.8" y2="440.4" stroke="#000" stroke-width="1.35" stroke-linecap="butt"/>
<line x1="443.6" y1="435.5" x2="445.8" y2="435.5" stroke="#000" stroke-width="1.35" stroke-linecap="butt"/>
<line x1="443.6" y1="430.6" x2="445.8" y2="430.6" stroke="#000" stroke-width="1.35" stroke-linecap="butt"/>
<line x1="442.2" y1="425.7" x2="445.8" y2="425.7" stroke="#000" stroke-width="1.4" stroke-linecap="butt"/>
<text transform="translate(434.28,626.56) scale(1.0372,1)" font-size="14.08" font-weight="bold" stroke="#000" stroke-width="0.6">0</text>
<text transform="translate(418.06,577.56) scale(1.0372,1)" font-size="14.08" font-weight="bold" stroke="#000" stroke-width="0.6">200</text>
<text transform="translate(418.06,528.56) scale(1.0372,1)" font-size="14.08" font-weight="bold" stroke="#000" stroke-width="0.6">400</text>
<text transform="translate(418.06,479.56) scale(1.0372,1)" font-size="14.08" font-weight="bold" stroke="#000" stroke-width="0.6">600</text>
<text transform="translate(418.06,430.56) scale(1.0372,1)" font-size="14.08" font-weight="bold" stroke="#000" stroke-width="0.6">800</text>
<line x1="445.8" y1="621.7" x2="740.7" y2="621.7" stroke="#000" stroke-width="1.7" stroke-linecap="butt"/>
<line x1="445.8" y1="621.7" x2="445.8" y2="625.5" stroke="#000" stroke-width="1.4" stroke-linecap="butt"/>
<line x1="455" y1="621.7" x2="455" y2="624.1" stroke="#000" stroke-width="1.35" stroke-linecap="butt"/>
<line x1="464.2" y1="621.7" x2="464.2" y2="624.1" stroke="#000" stroke-width="1.35" stroke-linecap="butt"/>
<line x1="473.4" y1="621.7" x2="473.4" y2="624.1" stroke="#000" stroke-width="1.35" stroke-linecap="butt"/>
<line x1="482.6" y1="621.7" x2="482.6" y2="624.1" stroke="#000" stroke-width="1.35" stroke-linecap="butt"/>
<line x1="491.8" y1="621.7" x2="491.8" y2="624.1" stroke="#000" stroke-width="1.35" stroke-linecap="butt"/>
<line x1="501" y1="621.7" x2="501" y2="624.1" stroke="#000" stroke-width="1.35" stroke-linecap="butt"/>
<line x1="510.2" y1="621.7" x2="510.2" y2="624.1" stroke="#000" stroke-width="1.35" stroke-linecap="butt"/>
<line x1="519.4" y1="621.7" x2="519.4" y2="624.1" stroke="#000" stroke-width="1.35" stroke-linecap="butt"/>
<line x1="528.6" y1="621.7" x2="528.6" y2="624.1" stroke="#000" stroke-width="1.35" stroke-linecap="butt"/>
<line x1="537.8" y1="621.7" x2="537.8" y2="625.5" stroke="#000" stroke-width="1.4" stroke-linecap="butt"/>
<line x1="547" y1="621.7" x2="547" y2="624.1" stroke="#000" stroke-width="1.35" stroke-linecap="butt"/>
<line x1="556.2" y1="621.7" x2="556.2" y2="624.1" stroke="#000" stroke-width="1.35" stroke-linecap="butt"/>
<line x1="565.4" y1="621.7" x2="565.4" y2="624.1" stroke="#000" stroke-width="1.35" stroke-linecap="butt"/>
<line x1="574.6" y1="621.7" x2="574.6" y2="624.1" stroke="#000" stroke-width="1.35" stroke-linecap="butt"/>
<line x1="583.8" y1="621.7" x2="583.8" y2="624.1" stroke="#000" stroke-width="1.35" stroke-linecap="butt"/>
<line x1="593" y1="621.7" x2="593" y2="624.1" stroke="#000" stroke-width="1.35" stroke-linecap="butt"/>
<line x1="602.2" y1="621.7" x2="602.2" y2="624.1" stroke="#000" stroke-width="1.35" stroke-linecap="butt"/>
<line x1="611.4" y1="621.7" x2="611.4" y2="624.1" stroke="#000" stroke-width="1.35" stroke-linecap="butt"/>
<line x1="620.6" y1="621.7" x2="620.6" y2="624.1" stroke="#000" stroke-width="1.35" stroke-linecap="butt"/>
<line x1="629.8" y1="621.7" x2="629.8" y2="625.5" stroke="#000" stroke-width="1.4" stroke-linecap="butt"/>
<line x1="639" y1="621.7" x2="639" y2="624.1" stroke="#000" stroke-width="1.35" stroke-linecap="butt"/>
<line x1="648.2" y1="621.7" x2="648.2" y2="624.1" stroke="#000" stroke-width="1.35" stroke-linecap="butt"/>
<line x1="657.4" y1="621.7" x2="657.4" y2="624.1" stroke="#000" stroke-width="1.35" stroke-linecap="butt"/>
<line x1="666.6" y1="621.7" x2="666.6" y2="624.1" stroke="#000" stroke-width="1.35" stroke-linecap="butt"/>
<line x1="675.8" y1="621.7" x2="675.8" y2="624.1" stroke="#000" stroke-width="1.35" stroke-linecap="butt"/>
<line x1="685" y1="621.7" x2="685" y2="624.1" stroke="#000" stroke-width="1.35" stroke-linecap="butt"/>
<line x1="694.2" y1="621.7" x2="694.2" y2="624.1" stroke="#000" stroke-width="1.35" stroke-linecap="butt"/>
<line x1="703.4" y1="621.7" x2="703.4" y2="624.1" stroke="#000" stroke-width="1.35" stroke-linecap="butt"/>
<line x1="712.6" y1="621.7" x2="712.6" y2="624.1" stroke="#000" stroke-width="1.35" stroke-linecap="butt"/>
<line x1="721.8" y1="621.7" x2="721.8" y2="625.5" stroke="#000" stroke-width="1.4" stroke-linecap="butt"/>
<line x1="731" y1="621.7" x2="731" y2="624.1" stroke="#000" stroke-width="1.35" stroke-linecap="butt"/>
<line x1="740.2" y1="621.7" x2="740.2" y2="624.1" stroke="#000" stroke-width="1.35" stroke-linecap="butt"/>
<text transform="translate(441.77,638.41) scale(1.0212,1)" font-size="14.23" font-weight="bold" stroke="#000" stroke-width="0.6">0</text>
<text transform="translate(529.56,638.41) scale(1.0212,1)" font-size="14.23" font-weight="bold" stroke="#000" stroke-width="0.6">10</text>
<text transform="translate(621.77,638.41) scale(1.0212,1)" font-size="14.23" font-weight="bold" stroke="#000" stroke-width="0.6">20</text>
<text transform="translate(713.85,638.41) scale(1.0212,1)" font-size="14.23" font-weight="bold" stroke="#000" stroke-width="0.6">30</text>
<polyline points="445.8,621.46 455,620.23 464.2,618.76 473.4,616.31 501,611.9 510.2,609.94 519.4,607.98 528.6,600.14 537.8,604.55 565.4,598.67 583.8,600.38 712.6,599.65" fill="none" stroke="#666" stroke-width="1.1" stroke-linejoin="round" stroke-dasharray="1,1.3"/>
<polyline points="445.8,621.21 455,617.78 464.2,614.84 473.4,611.9 501,605.78 510.2,605.29" fill="none" stroke="#666" stroke-width="1.1" stroke-linejoin="round" stroke-dasharray="1,1.3"/>
<polyline points="445.8,621.46 455,618.76 464.2,616.31 473.4,614.35 501,607.98 510.2,607.49" fill="none" stroke="#666" stroke-width="1.1" stroke-linejoin="round" stroke-dasharray="1,1.3"/>
<polyline points="445.8,474.45 455,484.01 464.2,503.12 473.4,525.41 501,549.67 510.2,584.22 519.4,591.57 528.6,598.18 537.8,604.8 565.4,616.31 583.8,619.25 712.6,621.7" fill="none" stroke="#000" stroke-width="1.6" stroke-linejoin="round"/>
<polyline points="445.8,479.6 455,515.62 464.2,549.43 473.4,567.31 501,618.76 510.2,619.74" fill="none" stroke="#000" stroke-width="1.6" stroke-linejoin="round"/>
<polyline points="445.8,481.81 455,532.27 464.2,548.69 473.4,583.24 501,619.74 510.2,619.74" fill="none" stroke="#000" stroke-width="1.6" stroke-linejoin="round"/>
<line x1="445.8" y1="469.8" x2="445.8" y2="495.28" stroke="#000" stroke-width="1.2" stroke-linecap="butt"/>
<line x1="442.3" y1="469.8" x2="449.3" y2="469.8" stroke="#000" stroke-width="1.2" stroke-linecap="butt"/>
<line x1="442.3" y1="495.28" x2="449.3" y2="495.28" stroke="#000" stroke-width="1.2" stroke-linecap="butt"/>
<line x1="464.2" y1="480.09" x2="464.2" y2="521.5" stroke="#000" stroke-width="1.2" stroke-linecap="butt"/>
<line x1="460.7" y1="480.09" x2="467.7" y2="480.09" stroke="#000" stroke-width="1.2" stroke-linecap="butt"/>
<line x1="460.7" y1="521.5" x2="467.7" y2="521.5" stroke="#000" stroke-width="1.2" stroke-linecap="butt"/>
<line x1="501" y1="537.91" x2="501" y2="562.9" stroke="#000" stroke-width="1.2" stroke-linecap="butt"/>
<line x1="497.5" y1="537.91" x2="504.5" y2="537.91" stroke="#000" stroke-width="1.2" stroke-linecap="butt"/>
<line x1="497.5" y1="562.9" x2="504.5" y2="562.9" stroke="#000" stroke-width="1.2" stroke-linecap="butt"/>
<line x1="510.2" y1="578.83" x2="510.2" y2="589.85" stroke="#000" stroke-width="1.2" stroke-linecap="butt"/>
<line x1="506.7" y1="578.83" x2="513.7" y2="578.83" stroke="#000" stroke-width="1.2" stroke-linecap="butt"/>
<line x1="506.7" y1="589.85" x2="513.7" y2="589.85" stroke="#000" stroke-width="1.2" stroke-linecap="butt"/>
<line x1="519.4" y1="579.56" x2="519.4" y2="603.33" stroke="#000" stroke-width="1.2" stroke-linecap="butt"/>
<line x1="515.9" y1="579.56" x2="522.9" y2="579.56" stroke="#000" stroke-width="1.2" stroke-linecap="butt"/>
<line x1="515.9" y1="603.33" x2="522.9" y2="603.33" stroke="#000" stroke-width="1.2" stroke-linecap="butt"/>
<line x1="528.6" y1="585.44" x2="528.6" y2="606.51" stroke="#000" stroke-width="1.2" stroke-linecap="butt"/>
<line x1="525.1" y1="585.44" x2="532.1" y2="585.44" stroke="#000" stroke-width="1.2" stroke-linecap="butt"/>
<line x1="525.1" y1="606.51" x2="532.1" y2="606.51" stroke="#000" stroke-width="1.2" stroke-linecap="butt"/>
<line x1="537.8" y1="599.89" x2="537.8" y2="610.43" stroke="#000" stroke-width="1.2" stroke-linecap="butt"/>
<line x1="534.3" y1="599.89" x2="541.3" y2="599.89" stroke="#000" stroke-width="1.2" stroke-linecap="butt"/>
<line x1="534.3" y1="610.43" x2="541.3" y2="610.43" stroke="#000" stroke-width="1.2" stroke-linecap="butt"/>
<line x1="583.8" y1="590.34" x2="583.8" y2="608.96" stroke="#000" stroke-width="1.2" stroke-linecap="butt"/>
<line x1="580.3" y1="590.34" x2="587.3" y2="590.34" stroke="#000" stroke-width="1.2" stroke-linecap="butt"/>
<line x1="580.3" y1="608.96" x2="587.3" y2="608.96" stroke="#000" stroke-width="1.2" stroke-linecap="butt"/>
<line x1="528.6" y1="593.53" x2="528.6" y2="607" stroke="#000" stroke-width="1.2" stroke-linecap="butt"/>
<line x1="525.1" y1="593.53" x2="532.1" y2="593.53" stroke="#000" stroke-width="1.2" stroke-linecap="butt"/>
<line x1="525.1" y1="607" x2="532.1" y2="607" stroke="#000" stroke-width="1.2" stroke-linecap="butt"/>
<line x1="455" y1="499.2" x2="455" y2="533.5" stroke="#444" stroke-width="1.2" stroke-linecap="butt"/>
<line x1="451.5" y1="499.2" x2="458.5" y2="499.2" stroke="#444" stroke-width="1.2" stroke-linecap="butt"/>
<line x1="451.5" y1="533.5" x2="458.5" y2="533.5" stroke="#444" stroke-width="1.2" stroke-linecap="butt"/>
<line x1="455" y1="513.9" x2="455" y2="562.9" stroke="#444" stroke-width="1.2" stroke-linecap="butt"/>
<line x1="451.5" y1="513.9" x2="458.5" y2="513.9" stroke="#444" stroke-width="1.2" stroke-linecap="butt"/>
<line x1="451.5" y1="562.9" x2="458.5" y2="562.9" stroke="#444" stroke-width="1.2" stroke-linecap="butt"/>
<line x1="464.2" y1="540.85" x2="464.2" y2="555.55" stroke="#444" stroke-width="1.2" stroke-linecap="butt"/>
<line x1="460.7" y1="540.85" x2="467.7" y2="540.85" stroke="#444" stroke-width="1.2" stroke-linecap="butt"/>
<line x1="460.7" y1="555.55" x2="467.7" y2="555.55" stroke="#444" stroke-width="1.2" stroke-linecap="butt"/>
<line x1="473.4" y1="562.9" x2="473.4" y2="571.48" stroke="#444" stroke-width="1.2" stroke-linecap="butt"/>
<line x1="469.9" y1="562.9" x2="476.9" y2="562.9" stroke="#444" stroke-width="1.2" stroke-linecap="butt"/>
<line x1="469.9" y1="571.48" x2="476.9" y2="571.48" stroke="#444" stroke-width="1.2" stroke-linecap="butt"/>
<line x1="473.4" y1="566.58" x2="473.4" y2="603.33" stroke="#444" stroke-width="1.2" stroke-linecap="butt"/>
<line x1="469.9" y1="566.58" x2="476.9" y2="566.58" stroke="#444" stroke-width="1.2" stroke-linecap="butt"/>
<line x1="469.9" y1="603.33" x2="476.9" y2="603.33" stroke="#444" stroke-width="1.2" stroke-linecap="butt"/>
<line x1="501" y1="599.41" x2="501" y2="611.9" stroke="#444" stroke-width="1.2" stroke-linecap="butt"/>
<line x1="497.5" y1="599.41" x2="504.5" y2="599.41" stroke="#444" stroke-width="1.2" stroke-linecap="butt"/>
<line x1="497.5" y1="611.9" x2="504.5" y2="611.9" stroke="#444" stroke-width="1.2" stroke-linecap="butt"/>
<line x1="510.2" y1="599.41" x2="510.2" y2="611.9" stroke="#444" stroke-width="1.2" stroke-linecap="butt"/>
<line x1="506.7" y1="599.41" x2="513.7" y2="599.41" stroke="#444" stroke-width="1.2" stroke-linecap="butt"/>
<line x1="506.7" y1="611.9" x2="513.7" y2="611.9" stroke="#444" stroke-width="1.2" stroke-linecap="butt"/>
<line x1="473.4" y1="604.06" x2="473.4" y2="616.8" stroke="#000" stroke-width="1.3" stroke-linecap="butt"/>
<line x1="469.9" y1="604.06" x2="476.9" y2="604.06" stroke="#000" stroke-width="1.3" stroke-linecap="butt"/>
<line x1="469.9" y1="616.8" x2="476.9" y2="616.8" stroke="#000" stroke-width="1.3" stroke-linecap="butt"/>
<rect x="442.95" y="618.61" width="5.7" height="5.7" fill="#fff" stroke="#000" stroke-width="2.1"/>
<rect x="452.15" y="615.91" width="5.7" height="5.7" fill="#fff" stroke="#000" stroke-width="2.1"/>
<rect x="461.35" y="613.46" width="5.7" height="5.7" fill="#fff" stroke="#000" stroke-width="2.1"/>
<rect x="470.55" y="611.5" width="5.7" height="5.7" fill="#fff" stroke="#000" stroke-width="2.1"/>
<rect x="498.15" y="605.13" width="5.7" height="5.7" fill="#fff" stroke="#000" stroke-width="2.1"/>
<rect x="507.35" y="604.64" width="5.7" height="5.7" fill="#fff" stroke="#000" stroke-width="2.1"/>
<circle cx="445.8" cy="621.21" r="2.85" fill="#fff" stroke="#000" stroke-width="1.9"/>
<circle cx="455" cy="617.78" r="2.85" fill="#fff" stroke="#000" stroke-width="1.9"/>
<circle cx="464.2" cy="614.84" r="2.85" fill="#fff" stroke="#000" stroke-width="1.9"/>
<circle cx="473.4" cy="611.9" r="2.85" fill="#fff" stroke="#000" stroke-width="1.9"/>
<circle cx="501" cy="605.78" r="2.85" fill="#fff" stroke="#000" stroke-width="1.9"/>
<circle cx="510.2" cy="605.29" r="2.85" fill="#fff" stroke="#000" stroke-width="1.9"/>
<polygon points="445.8,617.88 449.05,624.38 442.55,624.38" fill="#fff" stroke="#000" stroke-width="1.7" stroke-linejoin="miter"/>
<polygon points="455,616.65 458.25,623.15 451.75,623.15" fill="#fff" stroke="#000" stroke-width="1.7" stroke-linejoin="miter"/>
<polygon points="464.2,615.18 467.45,621.68 460.95,621.68" fill="#fff" stroke="#000" stroke-width="1.7" stroke-linejoin="miter"/>
<polygon points="473.4,612.74 476.65,619.24 470.15,619.24" fill="#fff" stroke="#000" stroke-width="1.7" stroke-linejoin="miter"/>
<polygon points="501,608.33 504.25,614.83 497.75,614.83" fill="#fff" stroke="#000" stroke-width="1.7" stroke-linejoin="miter"/>
<polygon points="510.2,606.37 513.45,612.87 506.95,612.87" fill="#fff" stroke="#000" stroke-width="1.7" stroke-linejoin="miter"/>
<polygon points="519.4,604.4 522.65,610.9 516.15,610.9" fill="#fff" stroke="#000" stroke-width="1.7" stroke-linejoin="miter"/>
<polygon points="528.6,596.56 531.85,603.06 525.35,603.06" fill="#fff" stroke="#000" stroke-width="1.7" stroke-linejoin="miter"/>
<polygon points="537.8,600.98 541.05,607.48 534.55,607.48" fill="#fff" stroke="#000" stroke-width="1.7" stroke-linejoin="miter"/>
<polygon points="565.4,595.1 568.65,601.6 562.15,601.6" fill="#fff" stroke="#000" stroke-width="1.7" stroke-linejoin="miter"/>
<polygon points="583.8,596.81 587.05,603.31 580.55,603.31" fill="#fff" stroke="#000" stroke-width="1.7" stroke-linejoin="miter"/>
<polygon points="712.6,596.08 715.85,602.58 709.35,602.58" fill="#fff" stroke="#000" stroke-width="1.7" stroke-linejoin="miter"/>
<polygon points="445.8,470.6 449.3,477.6 442.3,477.6" fill="#000" stroke="#000" stroke-width="0" stroke-linejoin="miter"/>
<polygon points="455,480.16 458.5,487.16 451.5,487.16" fill="#000" stroke="#000" stroke-width="0" stroke-linejoin="miter"/>
<polygon points="464.2,499.27 467.7,506.27 460.7,506.27" fill="#000" stroke="#000" stroke-width="0" stroke-linejoin="miter"/>
<polygon points="473.4,521.56 476.9,528.56 469.9,528.56" fill="#000" stroke="#000" stroke-width="0" stroke-linejoin="miter"/>
<polygon points="501,545.82 504.5,552.82 497.5,552.82" fill="#000" stroke="#000" stroke-width="0" stroke-linejoin="miter"/>
<polygon points="510.2,580.37 513.7,587.37 506.7,587.37" fill="#000" stroke="#000" stroke-width="0" stroke-linejoin="miter"/>
<polygon points="519.4,587.72 522.9,594.72 515.9,594.72" fill="#000" stroke="#000" stroke-width="0" stroke-linejoin="miter"/>
<polygon points="528.6,594.33 532.1,601.33 525.1,601.33" fill="#000" stroke="#000" stroke-width="0" stroke-linejoin="miter"/>
<polygon points="537.8,600.95 541.3,607.95 534.3,607.95" fill="#000" stroke="#000" stroke-width="0" stroke-linejoin="miter"/>
<polygon points="565.4,612.46 568.9,619.46 561.9,619.46" fill="#000" stroke="#000" stroke-width="0" stroke-linejoin="miter"/>
<polygon points="583.8,615.4 587.3,622.4 580.3,622.4" fill="#000" stroke="#000" stroke-width="0" stroke-linejoin="miter"/>
<polygon points="712.6,617.85 716.1,624.85 709.1,624.85" fill="#000" stroke="#000" stroke-width="0" stroke-linejoin="miter"/>
<circle cx="445.8" cy="479.6" r="3.7" fill="#000" stroke="#000" stroke-width="0"/>
<circle cx="455" cy="515.62" r="3.7" fill="#000" stroke="#000" stroke-width="0"/>
<circle cx="464.2" cy="549.43" r="3.7" fill="#000" stroke="#000" stroke-width="0"/>
<circle cx="473.4" cy="567.31" r="3.7" fill="#000" stroke="#000" stroke-width="0"/>
<circle cx="501" cy="618.76" r="3.7" fill="#000" stroke="#000" stroke-width="0"/>
<circle cx="510.2" cy="619.74" r="3.7" fill="#000" stroke="#000" stroke-width="0"/>
<rect x="442.2" y="478.2" width="7.2" height="7.2" fill="#000" stroke="#000" stroke-width="0"/>
<rect x="451.4" y="528.67" width="7.2" height="7.2" fill="#000" stroke="#000" stroke-width="0"/>
<rect x="460.6" y="545.09" width="7.2" height="7.2" fill="#000" stroke="#000" stroke-width="0"/>
<rect x="469.8" y="579.63" width="7.2" height="7.2" fill="#000" stroke="#000" stroke-width="0"/>
<rect x="497.4" y="616.14" width="7.2" height="7.2" fill="#000" stroke="#000" stroke-width="0"/>
<rect x="506.6" y="616.14" width="7.2" height="7.2" fill="#000" stroke="#000" stroke-width="0"/>
</svg>
</body></html>
